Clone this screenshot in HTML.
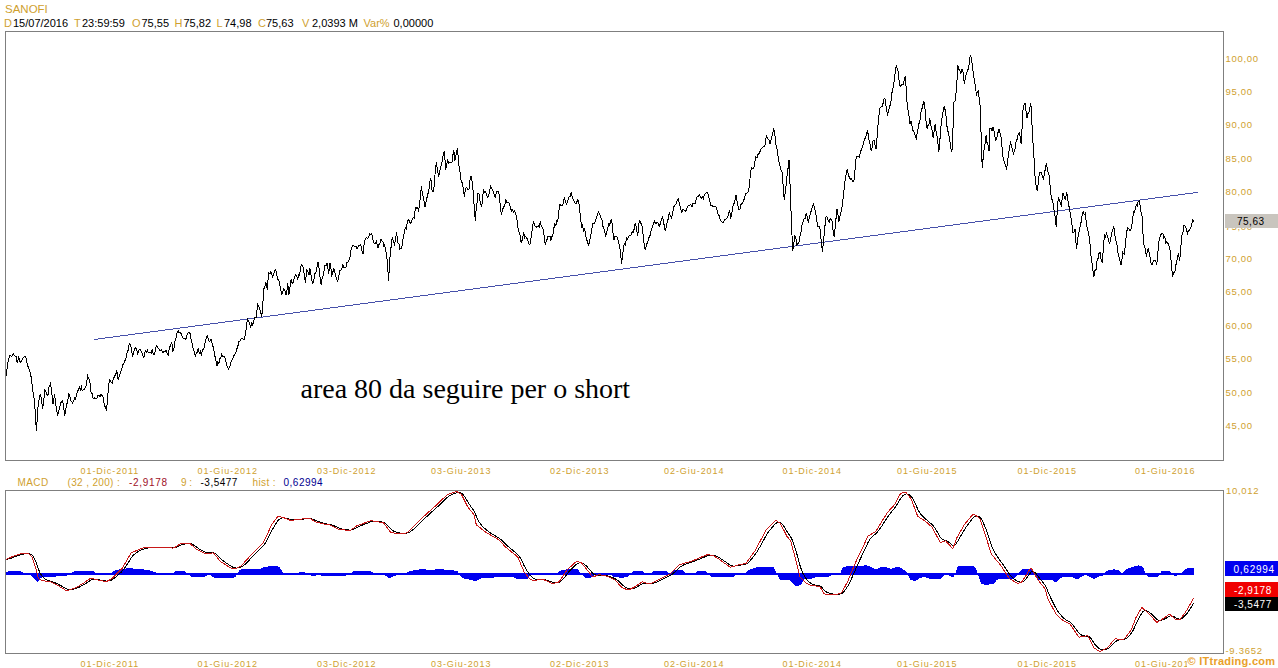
<!DOCTYPE html>
<html><head><meta charset="utf-8"><style>
html,body{margin:0;padding:0;background:#fff;width:1278px;height:668px;overflow:hidden;}
body{position:relative;font-family:"Liberation Sans",sans-serif;}
.t{position:absolute;white-space:nowrap;line-height:1;}
.g{color:#cf9f2f;}
.k{color:#000;}
svg{position:absolute;left:0;top:0;}
</style></head><body>
<svg width="1278" height="668" viewBox="0 0 1278 668" shape-rendering="crispEdges">
<rect x="5.5" y="31.5" width="1218" height="429" fill="none" stroke="#7f7f7f" stroke-width="1"/>
<rect x="5.5" y="490.5" width="1218" height="163" fill="none" stroke="#7f7f7f" stroke-width="1"/>
<line x1="94" y1="339.5" x2="1198" y2="192.3" stroke="#4650aa" stroke-width="1" shape-rendering="crispEdges"/>
<path d="M6.0,375.9 L6.8,370.1 L7.5,365.4 L8.6,358.9 L9.7,355.7 L10.6,355.9 L11.6,356.5 L12.6,355.1 L13.5,353.8 L14.6,355.7 L15.7,356.5 L16.4,356.7 L17.2,363.2 L17.9,360.1 L18.7,357.2 L19.4,359.3 L20.2,362.5 L21.4,361.0 L22.5,358.7 L23.5,357.7 L24.4,356.9 L25.4,356.5 L26.4,359.3 L27.4,365.4 L28.4,367.0 L29.4,370.7 L30.4,372.9 L31.4,378.9 L32.4,387.2 L33.4,394.6 L34.4,399.9 L35.4,415.3 L36.4,431.3 L37.3,418.0 L38.2,404.4 L39.3,398.6 L40.4,393.9 L41.5,400.1 L42.7,408.9 L43.8,399.7 L44.9,389.4 L45.9,392.1 L46.9,394.5 L47.9,395.4 L48.8,387.8 L49.7,385.6 L50.6,383.4 L51.9,394.2 L53.1,404.4 L53.9,398.8 L54.6,393.9 L55.6,403.1 L56.6,409.2 L57.6,416.3 L58.6,411.5 L59.6,408.6 L60.6,402.9 L61.6,402.7 L62.6,399.9 L63.7,407.0 L64.7,415.6 L65.8,408.4 L66.8,404.6 L67.9,399.2 L68.9,393.9 L69.8,396.4 L70.8,401.0 L71.7,401.3 L72.6,402.9 L73.6,401.0 L74.5,398.0 L75.5,399.0 L76.4,394.8 L77.4,392.5 L78.3,389.5 L79.3,387.2 L80.3,389.9 L81.3,386.7 L82.3,390.9 L83.3,389.6 L84.3,389.2 L85.3,387.9 L86.4,384.5 L87.6,375.9 L88.7,378.5 L89.8,380.4 L90.5,389.1 L91.3,393.9 L92.2,393.4 L93.2,398.7 L94.1,397.7 L95.1,399.1 L96.1,398.8 L97.1,398.1 L98.0,395.2 L99.0,394.9 L100.0,397.0 L101.0,393.9 L101.9,395.4 L102.9,395.8 L103.8,402.6 L104.7,406.0 L105.7,407.7 L106.6,410.4 L107.5,399.5 L108.4,388.6 L109.3,379.7 L110.3,380.2 L111.2,382.3 L112.2,383.1 L113.3,379.4 L114.5,376.1 L115.6,375.4 L116.7,370.4 L117.5,374.6 L118.2,380.1 L119.3,375.5 L120.5,372.7 L121.6,369.7 L122.7,364.4 L123.7,364.3 L124.6,361.0 L125.5,360.8 L126.5,356.1 L127.4,350.6 L128.3,350.7 L129.2,343.4 L130.3,344.4 L131.4,348.0 L132.5,356.1 L133.5,353.7 L134.4,349.7 L135.4,347.9 L136.6,348.9 L137.7,353.9 L138.8,350.5 L139.9,349.4 L140.9,351.1 L141.9,352.9 L142.9,356.1 L144.0,357.6 L145.2,350.5 L146.3,352.5 L147.4,350.1 L148.3,352.3 L149.3,352.4 L150.2,352.4 L151.2,353.1 L152.2,349.9 L153.2,353.4 L154.2,354.6 L155.1,352.1 L156.1,346.4 L157.0,345.6 L157.9,347.6 L158.8,348.9 L159.8,350.3 L160.7,350.1 L161.6,349.4 L162.3,352.2 L163.1,352.4 L164.1,351.0 L165.1,351.8 L166.1,350.1 L167.2,353.1 L168.4,355.1 L169.4,346.3 L170.4,346.5 L171.4,341.9 L172.2,344.8 L172.9,350.9 L173.9,348.5 L175.0,341.2 L176.0,338.3 L177.1,332.4 L178.1,330.7 L179.2,333.0 L180.4,332.2 L181.4,334.3 L182.5,337.9 L183.5,338.1 L184.6,338.4 L185.6,339.7 L186.5,337.1 L187.4,333.8 L188.4,332.2 L189.3,332.2 L190.3,334.0 L191.3,340.9 L192.3,343.7 L193.3,350.0 L194.3,351.6 L195.3,356.9 L196.3,353.0 L197.3,352.1 L198.3,347.9 L199.3,353.1 L200.3,351.4 L201.3,354.6 L202.3,350.3 L203.3,349.3 L204.3,347.5 L205.3,341.7 L206.3,338.2 L207.3,335.9 L208.2,338.7 L209.2,341.3 L210.1,340.8 L211.0,338.9 L212.0,343.2 L213.0,346.4 L214.0,351.0 L215.0,356.5 L216.0,360.7 L217.0,365.9 L217.9,361.4 L218.9,363.6 L219.9,358.2 L220.8,358.4 L221.7,354.2 L222.7,356.6 L223.6,356.5 L224.5,356.9 L225.4,358.3 L226.4,364.5 L227.4,367.0 L228.3,368.9 L229.3,367.3 L230.3,365.3 L231.3,360.6 L232.4,359.2 L233.5,356.9 L234.6,354.1 L235.7,353.9 L236.7,349.0 L237.7,347.2 L238.7,341.9 L239.8,341.6 L240.8,339.7 L241.9,337.9 L242.9,338.7 L244.0,339.7 L244.9,336.1 L245.8,332.4 L246.8,322.8 L247.7,319.5 L248.7,321.1 L249.7,324.5 L250.7,326.9 L251.8,323.0 L252.8,325.0 L253.9,320.8 L254.9,317.0 L256.0,318.0 L256.9,311.2 L257.8,304.6 L258.8,306.2 L259.7,308.3 L260.7,312.9 L261.7,317.3 L262.8,304.3 L263.8,288.9 L264.8,287.3 L265.7,282.9 L266.4,284.1 L267.2,289.6 L267.9,280.6 L268.7,273.1 L269.9,273.6 L271.0,271.6 L271.8,274.6 L272.5,276.9 L273.6,274.4 L274.6,270.4 L275.7,269.4 L276.6,274.2 L277.5,279.0 L278.4,279.9 L279.5,282.6 L280.6,289.5 L281.7,294.1 L282.7,292.3 L283.7,288.9 L284.8,289.9 L285.9,294.9 L286.8,291.8 L287.7,282.9 L288.9,294.9 L290.0,286.7 L291.2,279.1 L292.3,283.7 L293.4,282.9 L294.1,278.6 L294.9,276.6 L295.8,274.9 L296.7,276.1 L297.6,279.9 L298.6,274.6 L299.6,275.5 L300.6,266.3 L301.6,264.9 L302.4,265.3 L303.1,267.2 L304.2,274.8 L305.4,282.9 L306.1,276.1 L306.9,269.4 L308.0,272.3 L309.1,275.4 L309.9,267.9 L310.9,274.2 L311.9,280.6 L312.9,283.6 L313.9,279.5 L315.0,273.5 L316.0,271.9 L317.1,266.4 L318.1,261.9 L319.1,268.8 L320.1,277.5 L321.1,285.1 L322.1,278.0 L323.1,275.6 L324.1,270.9 L325.1,264.9 L326.1,265.6 L327.1,263.4 L327.9,268.2 L328.6,273.9 L329.4,268.2 L330.1,262.7 L330.9,267.8 L331.6,276.9 L332.7,272.6 L333.8,268.7 L334.8,272.2 L335.7,276.5 L336.7,278.6 L337.6,282.1 L338.7,277.2 L339.8,270.9 L340.8,270.1 L341.8,269.3 L342.8,264.2 L343.8,267.9 L344.8,267.9 L345.8,267.9 L346.8,262.3 L347.8,262.3 L348.8,260.4 L349.7,259.4 L350.6,252.2 L351.6,247.8 L352.5,245.4 L353.6,245.3 L354.8,246.9 L355.9,245.9 L357.0,248.4 L357.9,247.4 L358.9,245.6 L359.9,245.6 L360.8,244.7 L361.9,250.7 L363.0,254.4 L364.1,244.0 L365.3,238.7 L366.4,237.7 L367.6,238.6 L368.7,236.8 L369.8,233.8 L370.6,234.4 L371.3,233.5 L372.3,235.9 L373.3,241.5 L374.3,243.9 L375.4,243.3 L376.5,241.0 L377.2,245.0 L378.0,247.7 L379.0,244.6 L380.0,243.0 L381.0,238.7 L381.9,240.8 L382.9,241.8 L383.8,245.7 L384.7,244.7 L385.9,251.8 L387.0,258.9 L387.8,268.5 L388.5,281.4 L389.2,270.4 L390.0,257.4 L391.1,246.6 L392.2,238.0 L393.4,240.8 L394.5,244.0 L395.5,239.4 L396.5,232.0 L397.3,238.3 L398.1,243.2 L399.0,244.1 L399.9,249.1 L400.8,248.6 L401.7,247.8 L402.6,242.3 L403.5,236.0 L404.4,232.4 L405.3,227.8 L406.2,228.6 L407.1,223.1 L408.0,219.8 L408.9,220.2 L409.8,222.5 L410.7,223.4 L411.6,221.4 L412.5,219.0 L413.4,217.4 L414.3,218.0 L415.1,209.9 L416.0,207.2 L416.9,208.6 L417.8,207.9 L418.7,211.7 L419.6,202.4 L420.5,197.1 L421.4,185.7 L422.3,193.3 L423.2,197.1 L424.1,201.5 L425.0,207.2 L425.9,202.8 L426.8,198.8 L427.7,193.4 L428.6,192.9 L429.5,185.3 L430.4,177.6 L431.3,181.4 L432.2,192.0 L433.1,191.8 L434.0,187.5 L435.1,173.4 L436.3,162.3 L437.4,169.0 L438.5,176.7 L439.4,174.1 L440.3,168.5 L441.2,165.5 L442.1,161.4 L443.2,155.4 L444.4,150.7 L445.7,169.5 L446.6,166.3 L447.5,159.6 L448.6,163.4 L449.8,162.5 L450.9,163.0 L452.0,162.3 L452.9,155.2 L453.8,149.8 L455.0,160.5 L456.2,154.2 L457.4,148.0 L458.3,158.7 L459.2,167.7 L460.1,172.7 L461.0,179.7 L461.9,182.1 L462.8,185.6 L463.6,190.9 L464.5,196.5 L465.4,188.3 L466.3,187.5 L467.2,188.5 L468.1,189.8 L469.0,189.3 L469.9,181.0 L470.8,175.8 L471.7,178.9 L472.6,185.7 L473.5,195.7 L474.4,209.7 L475.3,220.7 L476.2,209.0 L477.1,201.9 L478.0,192.9 L478.9,193.4 L479.8,200.1 L480.7,203.5 L481.6,207.2 L482.5,199.7 L483.4,190.2 L484.5,192.1 L485.6,192.0 L486.8,195.5 L487.9,197.4 L488.8,194.8 L489.7,190.6 L490.6,186.0 L491.5,187.5 L492.4,190.1 L493.3,191.8 L494.2,194.7 L495.3,198.0 L496.4,191.4 L497.6,191.2 L498.7,192.0 L499.6,198.6 L500.5,208.2 L501.4,215.3 L502.5,209.6 L503.6,207.4 L504.8,205.0 L505.9,200.0 L507.0,202.8 L508.1,202.3 L509.3,203.0 L510.4,207.2 L511.4,211.0 L512.5,209.7 L513.5,212.0 L514.5,210.6 L515.6,214.2 L516.6,216.2 L517.5,223.6 L518.4,230.6 L519.3,233.2 L520.2,235.2 L521.1,242.3 L522.0,240.6 L522.9,236.0 L523.8,232.4 L524.7,237.8 L525.6,236.4 L526.5,237.8 L527.4,239.2 L528.3,241.4 L529.2,244.8 L530.1,244.1 L531.2,236.2 L532.4,228.6 L533.5,220.9 L534.4,224.6 L535.2,226.9 L536.4,227.1 L537.5,226.1 L538.4,225.8 L539.3,226.7 L540.2,221.6 L541.3,225.7 L542.4,227.4 L543.5,229.9 L544.5,240.3 L545.4,244.9 L546.3,240.4 L547.1,239.6 L548.0,235.9 L549.0,237.0 L550.0,235.8 L551.0,240.4 L552.0,236.5 L553.0,233.8 L554.0,227.6 L554.9,223.7 L555.9,225.2 L556.8,221.0 L557.7,221.6 L558.8,211.7 L559.9,204.4 L561.0,206.0 L562.2,205.9 L563.3,202.8 L564.4,196.9 L565.5,201.8 L566.7,204.4 L567.5,201.7 L568.2,199.9 L569.2,196.8 L570.2,196.4 L571.2,191.7 L572.3,197.1 L573.4,199.9 L574.4,202.2 L575.4,203.5 L576.4,203.7 L577.5,199.9 L578.7,201.4 L579.7,209.8 L580.6,217.7 L581.6,226.9 L582.5,225.2 L583.5,230.9 L584.5,229.4 L585.4,232.9 L586.4,238.9 L587.4,241.4 L588.4,246.3 L589.5,241.4 L590.6,235.9 L591.8,229.4 L592.9,223.9 L593.9,223.9 L594.9,222.8 L595.9,219.4 L596.8,216.9 L597.7,213.1 L598.6,211.9 L599.7,213.9 L600.8,217.3 L601.9,219.4 L602.8,226.0 L603.8,228.1 L604.7,231.6 L605.6,236.6 L606.7,232.2 L607.8,228.4 L608.8,223.7 L609.7,225.3 L610.6,220.3 L611.6,219.4 L612.7,230.0 L613.8,240.4 L614.8,236.3 L615.8,236.2 L616.8,236.6 L617.8,239.1 L618.8,243.2 L619.8,246.3 L620.7,255.6 L621.6,263.6 L622.6,255.9 L623.6,246.3 L624.5,243.5 L625.5,244.9 L626.4,237.7 L627.3,239.6 L628.4,237.4 L629.5,235.2 L630.7,235.4 L631.8,232.9 L632.7,231.9 L633.6,232.2 L634.6,225.7 L635.5,223.1 L636.6,229.9 L637.8,235.9 L638.5,226.6 L639.3,220.9 L640.3,222.0 L641.3,224.1 L642.3,226.9 L643.3,237.1 L644.3,245.8 L645.3,250.1 L646.3,245.2 L647.3,242.7 L648.3,240.0 L649.3,236.4 L650.3,235.3 L651.3,229.9 L652.3,227.1 L653.3,224.6 L654.3,220.9 L655.2,223.0 L656.1,223.4 L657.1,221.9 L658.0,223.1 L659.1,226.4 L660.2,224.0 L661.4,219.5 L662.5,217.2 L663.5,221.3 L664.5,227.6 L665.5,231.4 L666.4,225.6 L667.4,222.0 L668.3,218.4 L669.2,212.7 L670.4,215.7 L671.5,217.9 L672.4,215.1 L673.3,208.6 L674.2,205.9 L675.2,204.4 L676.3,203.8 L677.4,199.9 L678.4,198.6 L679.4,204.2 L680.5,207.2 L681.5,213.2 L682.6,209.7 L683.6,210.0 L684.7,210.1 L685.7,211.5 L686.8,208.1 L687.8,206.2 L688.9,205.5 L689.9,204.9 L690.9,204.7 L692.0,207.1 L693.0,203.0 L694.1,203.4 L695.1,203.8 L696.1,199.9 L697.2,196.7 L698.2,196.2 L699.3,194.4 L700.3,196.2 L701.4,198.2 L702.5,196.9 L703.5,198.6 L704.5,194.1 L705.6,193.7 L706.7,192.2 L707.7,192.3 L708.8,196.9 L709.8,200.9 L710.9,205.9 L711.9,205.2 L713.0,206.5 L714.0,206.8 L715.0,205.9 L716.1,207.3 L717.1,210.3 L718.2,215.0 L719.2,215.2 L720.3,220.6 L721.3,221.2 L722.4,222.4 L723.4,222.6 L724.5,219.8 L725.5,219.5 L726.5,218.3 L727.6,217.2 L728.7,213.2 L729.7,211.1 L730.8,218.5 L731.8,213.4 L732.9,206.3 L733.9,204.0 L735.0,199.7 L736.0,195.4 L737.0,200.8 L738.1,206.0 L739.1,210.1 L740.1,208.9 L741.2,203.7 L742.2,203.5 L743.3,201.7 L744.4,198.4 L745.4,194.2 L746.5,193.3 L747.5,192.9 L748.6,191.2 L749.7,181.7 L750.7,171.3 L751.7,167.6 L752.8,168.8 L753.8,168.2 L754.8,161.7 L755.9,156.7 L757.0,157.9 L758.0,154.3 L759.0,153.7 L760.1,151.4 L761.1,148.8 L762.2,148.1 L763.2,146.5 L764.3,146.2 L765.3,144.2 L766.4,134.7 L767.3,138.4 L768.2,139.0 L769.2,140.4 L770.1,144.1 L771.0,139.7 L771.9,136.7 L772.8,133.5 L773.7,128.4 L774.8,134.0 L775.8,144.2 L776.9,148.3 L777.9,154.9 L778.9,161.9 L780.0,166.0 L781.0,170.0 L782.1,172.4 L783.2,186.3 L784.2,199.6 L785.2,193.3 L786.3,182.9 L787.2,174.2 L788.1,167.8 L789.0,159.8 L789.8,177.5 L790.5,199.6 L791.5,221.9 L792.6,250.9 L793.7,244.7 L794.7,235.2 L795.8,238.0 L796.8,244.7 L797.8,243.1 L798.9,243.2 L799.9,236.2 L801.0,232.5 L802.0,224.8 L803.0,222.2 L804.1,219.1 L805.2,218.5 L806.2,213.2 L807.2,216.9 L808.3,222.7 L809.3,217.9 L810.3,213.3 L811.4,210.5 L812.4,206.1 L813.4,204.3 L814.5,206.8 L815.6,212.7 L816.7,220.0 L817.8,226.2 L819.0,226.0 L820.1,229.0 L821.2,240.8 L822.4,251.5 L823.5,242.0 L824.6,230.1 L825.7,217.8 L826.8,216.0 L828.0,220.0 L829.1,222.3 L830.2,218.6 L831.3,220.0 L832.3,221.6 L833.3,234.0 L834.3,236.9 L835.2,227.4 L836.1,217.5 L837.0,208.8 L837.9,213.7 L838.7,222.3 L839.6,218.3 L840.5,213.2 L841.4,211.1 L842.5,204.2 L843.7,193.1 L844.8,182.6 L846.0,174.7 L847.1,169.5 L848.2,173.8 L849.3,177.4 L850.4,179.3 L851.5,178.8 L852.7,181.1 L853.8,181.9 L854.9,171.3 L856.0,159.4 L857.1,156.1 L858.3,156.8 L859.4,157.2 L860.5,151.6 L861.7,149.3 L862.8,145.6 L863.9,141.4 L865.0,138.6 L866.2,135.3 L867.3,131.3 L868.2,134.0 L869.2,141.2 L870.1,144.0 L871.1,150.4 L872.1,147.9 L873.0,141.2 L874.0,140.3 L875.1,145.9 L876.2,149.3 L877.0,138.2 L877.7,127.2 L878.6,120.7 L879.5,109.2 L880.4,107.5 L881.5,106.8 L882.6,105.7 L883.8,99.3 L884.9,98.5 L885.8,105.2 L886.7,109.8 L887.6,115.6 L888.5,111.0 L889.4,107.0 L890.3,104.8 L891.2,100.0 L892.1,91.7 L893.0,87.7 L894.1,81.4 L895.1,73.7 L896.2,65.3 L897.3,69.0 L898.4,71.6 L899.2,82.4 L900.1,86.8 L901.0,85.6 L901.9,84.7 L902.8,85.0 L903.7,82.6 L904.6,78.3 L905.5,76.0 L906.4,93.7 L907.3,105.7 L908.2,111.6 L909.1,116.5 L910.0,124.1 L910.9,120.7 L911.8,125.4 L912.9,130.5 L914.0,131.6 L915.2,135.7 L916.3,138.0 L917.2,132.8 L918.1,128.5 L919.0,123.6 L919.9,120.6 L920.8,113.4 L921.7,109.3 L922.6,107.1 L923.5,101.6 L924.4,102.1 L925.3,112.6 L926.2,123.1 L927.1,129.0 L928.0,125.5 L928.9,125.2 L929.8,118.3 L930.7,125.5 L931.6,126.7 L932.5,134.5 L933.4,138.0 L934.3,129.7 L935.2,123.6 L936.1,131.4 L937.0,135.8 L937.9,143.1 L938.8,152.4 L939.7,143.1 L940.6,130.3 L941.5,121.9 L942.4,115.7 L943.3,110.9 L944.2,105.7 L945.1,109.9 L946.0,116.2 L946.9,125.9 L947.8,130.8 L948.8,134.5 L949.8,140.3 L950.9,148.1 L951.9,152.4 L953.0,128.6 L954.0,102.1 L955.4,100.5 L956.6,86.3 L957.9,65.4 L958.9,69.2 L959.8,69.6 L960.8,74.2 L961.8,69.5 L962.8,70.3 L963.5,76.5 L964.3,83.9 L965.4,78.5 L966.6,72.5 L967.7,70.3 L968.7,67.9 L969.6,58.9 L970.6,54.7 L971.5,59.2 L972.5,66.4 L973.5,74.9 L974.5,81.0 L975.5,86.1 L976.4,95.6 L977.4,91.8 L978.4,90.7 L979.3,99.8 L980.3,107.3 L981.2,138.2 L982.2,167.6 L983.2,157.7 L984.2,148.2 L985.2,142.7 L986.1,135.5 L987.1,143.2 L988.1,145.3 L989.1,151.1 L990.0,128.7 L991.0,128.1 L992.0,130.7 L993.0,126.7 L994.0,131.1 L994.9,136.8 L995.9,140.4 L996.9,137.9 L997.8,133.6 L998.8,128.7 L999.8,132.4 L1000.7,134.5 L1001.7,142.3 L1002.7,155.9 L1003.7,159.9 L1004.7,163.9 L1005.6,164.6 L1006.6,169.6 L1007.6,161.0 L1008.5,154.1 L1009.5,148.5 L1010.5,141.3 L1011.5,147.3 L1012.4,148.2 L1013.4,154.0 L1014.4,151.2 L1015.3,147.8 L1016.3,140.1 L1017.3,139.7 L1018.2,133.8 L1019.2,132.6 L1020.2,136.7 L1021.2,144.3 L1022.2,126.1 L1023.1,108.3 L1024.1,104.5 L1025.1,103.4 L1026.0,111.4 L1027.0,118.0 L1028.0,113.3 L1029.0,112.4 L1029.9,107.8 L1030.9,103.4 L1031.9,122.8 L1032.9,141.0 L1033.8,154.7 L1034.8,171.5 L1035.2,179.3 L1036.2,185.9 L1037.3,190.9 L1038.3,182.2 L1039.4,172.0 L1040.5,172.0 L1041.5,173.0 L1042.5,177.2 L1043.6,179.3 L1044.5,171.4 L1045.4,169.7 L1046.3,163.6 L1047.2,168.0 L1048.0,171.6 L1048.9,174.1 L1050.0,184.6 L1051.0,195.0 L1052.2,200.3 L1053.5,204.5 L1054.4,214.0 L1055.3,217.0 L1056.2,226.5 L1057.2,211.9 L1058.3,197.1 L1059.3,200.5 L1060.4,202.7 L1061.4,206.6 L1062.2,197.6 L1063.1,192.9 L1064.2,196.3 L1065.2,199.2 L1066.0,195.7 L1066.7,191.9 L1067.8,199.8 L1068.8,205.5 L1069.8,210.3 L1070.9,217.4 L1072.0,224.7 L1073.0,232.8 L1074.0,232.4 L1075.0,228.6 L1075.8,240.3 L1076.5,248.5 L1077.4,241.9 L1078.3,235.1 L1079.2,230.7 L1080.2,226.2 L1081.3,221.3 L1082.4,213.2 L1083.4,211.8 L1084.3,214.7 L1085.2,213.6 L1086.1,220.2 L1087.0,226.9 L1087.8,229.7 L1088.7,233.8 L1089.8,241.4 L1090.8,254.8 L1091.8,261.1 L1092.9,270.1 L1093.9,276.8 L1094.9,270.4 L1096.0,269.6 L1097.0,261.0 L1098.1,258.2 L1099.1,253.0 L1100.2,252.7 L1101.2,260.4 L1102.3,263.1 L1103.3,249.0 L1104.4,234.9 L1105.4,236.5 L1106.5,233.4 L1107.5,235.9 L1108.5,239.7 L1109.6,244.3 L1110.6,239.4 L1111.7,232.8 L1112.8,229.3 L1113.8,226.5 L1114.8,234.7 L1115.9,240.9 L1117.0,244.8 L1118.0,252.7 L1119.0,257.3 L1120.1,261.0 L1121.1,265.4 L1121.9,260.2 L1122.8,252.6 L1123.5,253.7 L1124.3,254.0 L1125.7,242.6 L1126.4,232.7 L1127.8,227.7 L1128.9,228.4 L1130.0,231.3 L1131.4,227.7 L1132.5,221.8 L1133.5,211.3 L1134.5,212.1 L1135.6,207.1 L1136.5,205.1 L1137.3,206.1 L1138.2,201.1 L1139.1,200.9 L1139.9,204.2 L1141.0,212.3 L1142.0,215.6 L1142.8,229.6 L1143.5,244.1 L1144.5,246.0 L1145.6,249.7 L1146.3,256.9 L1147.3,251.9 L1148.4,248.3 L1149.4,253.8 L1150.3,259.1 L1151.3,264.7 L1152.3,264.7 L1153.4,260.4 L1154.5,260.2 L1155.6,260.4 L1156.7,265.4 L1157.9,252.2 L1159.1,239.8 L1160.1,236.3 L1161.0,234.5 L1162.0,233.4 L1162.9,233.9 L1163.9,238.4 L1164.8,236.9 L1165.8,242.6 L1166.7,241.8 L1167.7,242.6 L1168.8,245.7 L1169.8,248.3 L1170.7,256.8 L1171.7,267.3 L1172.6,276.8 L1173.7,272.8 L1174.8,272.5 L1175.7,266.7 L1176.5,261.0 L1177.4,259.1 L1178.3,252.6 L1179.7,261.1 L1180.8,247.5 L1181.9,235.5 L1182.8,234.1 L1183.8,225.5 L1184.7,225.6 L1185.7,226.8 L1186.6,230.1 L1187.6,233.4 L1188.5,230.5 L1189.5,230.4 L1190.4,228.4 L1191.5,225.6 L1192.5,219.9 L1193.7,221.6" fill="none" stroke="#000" stroke-width="1" shape-rendering="crispEdges"/>
<rect x="6" y="573" width="1188" height="2" fill="#0000f0"/>
<path d="M6.0,574.0 L6.0,571.9 L6.5,571.9 L7.0,571.8 L7.5,571.6 L8.0,571.5 L8.5,571.4 L9.0,571.3 L9.5,571.1 L10.0,571.1 L10.5,571.0 L11.0,571.0 L11.5,571.0 L12.0,571.0 L12.5,571.0 L13.0,571.0 L13.5,571.0 L14.0,571.0 L14.5,571.0 L15.0,571.0 L15.5,571.0 L16.0,571.0 L16.5,571.0 L17.0,571.0 L17.5,571.0 L18.0,571.0 L18.5,571.0 L19.0,571.0 L19.5,571.0 L20.0,571.2 L20.5,571.3 L21.0,571.5 L21.5,571.8 L22.0,572.0 L22.5,572.2 L23.0,572.5 L23.5,572.8 L24.0,573.0 L24.5,573.2 L25.0,573.4 L25.5,573.5 L26.0,573.6 L26.5,573.7 L27.0,573.8 L27.5,573.8 L28.0,573.9 L28.5,574.0 L29.0,574.3 L29.5,574.6 L30.0,575.0 L30.5,575.5 L31.0,576.0 L31.5,576.5 L32.0,577.0 L32.5,577.5 L33.0,578.0 L33.5,578.5 L34.0,579.0 L34.5,579.5 L35.0,580.0 L35.5,580.5 L36.0,581.0 L36.5,581.5 L37.0,581.7 L37.5,581.7 L38.0,581.3 L38.5,580.7 L39.0,579.8 L39.5,579.1 L40.0,578.5 L40.5,578.0 L41.0,577.7 L41.5,577.6 L42.0,577.4 L42.5,577.2 L43.0,577.1 L43.5,577.0 L44.0,576.8 L44.5,576.7 L45.0,576.6 L45.5,576.5 L46.0,576.5 L46.5,576.5 L47.0,576.5 L47.5,576.5 L48.0,576.5 L48.5,576.5 L49.0,576.5 L49.5,576.5 L50.0,576.5 L50.5,576.5 L51.0,576.5 L51.5,576.5 L52.0,576.5 L52.5,576.5 L53.0,576.5 L53.5,576.5 L54.0,576.5 L54.5,576.5 L55.0,576.5 L55.5,576.5 L56.0,576.5 L56.5,576.4 L57.0,576.4 L57.5,576.4 L58.0,576.4 L58.5,576.3 L59.0,576.3 L59.5,576.3 L60.0,576.3 L60.5,576.2 L61.0,576.2 L61.5,576.2 L62.0,576.2 L62.5,576.2 L63.0,576.1 L63.5,576.1 L64.0,576.1 L64.5,576.1 L65.0,576.0 L65.5,576.0 L66.0,575.9 L66.5,575.7 L67.0,575.5 L67.5,575.2 L68.0,575.0 L68.5,574.8 L69.0,574.5 L69.5,574.2 L70.0,574.0 L70.5,573.7 L71.0,573.4 L71.5,573.0 L72.0,572.7 L72.5,572.4 L73.0,572.1 L73.5,571.8 L74.0,571.4 L74.5,571.2 L75.0,571.0 L75.5,570.8 L76.0,570.8 L76.5,570.8 L77.0,570.7 L77.5,570.7 L78.0,570.7 L78.5,570.7 L79.0,570.7 L79.5,570.7 L80.0,570.6 L80.5,570.6 L81.0,570.6 L81.5,570.6 L82.0,570.6 L82.5,570.6 L83.0,570.6 L83.5,570.5 L84.0,570.5 L84.5,570.5 L85.0,570.5 L85.5,570.5 L86.0,570.5 L86.5,570.5 L87.0,570.6 L87.5,570.6 L88.0,570.6 L88.5,570.6 L89.0,570.6 L89.5,570.6 L90.0,570.7 L90.5,570.7 L91.0,570.7 L91.5,570.7 L92.0,570.7 L92.5,570.8 L93.0,570.8 L93.5,570.9 L94.0,571.3 L94.5,571.8 L95.0,572.4 L95.5,573.1 L96.0,573.6 L96.5,574.0 L97.0,574.2 L97.5,574.4 L98.0,574.5 L98.5,574.6 L99.0,574.8 L99.5,574.9 L100.0,574.9 L100.5,575.0 L101.0,575.0 L101.5,575.0 L102.0,575.0 L102.5,575.0 L103.0,575.0 L103.5,575.0 L104.0,575.0 L104.5,575.0 L105.0,575.0 L105.5,575.0 L106.0,575.0 L106.5,575.0 L107.0,575.0 L107.5,575.0 L108.0,574.9 L108.5,574.7 L109.0,574.5 L109.5,574.2 L110.0,573.9 L110.5,573.6 L111.0,573.2 L111.5,572.8 L112.0,572.4 L112.5,572.0 L113.0,571.6 L113.5,571.2 L114.0,570.8 L114.5,570.5 L115.0,570.2 L115.5,570.0 L116.0,569.9 L116.5,569.8 L117.0,569.7 L117.5,569.6 L118.0,569.5 L118.5,569.5 L119.0,569.4 L119.5,569.3 L120.0,569.2 L120.5,569.2 L121.0,569.1 L121.5,569.0 L122.0,569.0 L122.5,568.9 L123.0,568.8 L123.5,568.7 L124.0,568.7 L124.5,568.6 L125.0,568.5 L125.5,568.5 L126.0,568.5 L126.5,568.4 L127.0,568.4 L127.5,568.4 L128.0,568.4 L128.5,568.4 L129.0,568.3 L129.5,568.3 L130.0,568.3 L130.5,568.3 L131.0,568.4 L131.5,568.4 L132.0,568.4 L132.5,568.4 L133.0,568.5 L133.5,568.5 L134.0,568.5 L134.5,568.5 L135.0,568.5 L135.5,568.6 L136.0,568.6 L136.5,568.6 L137.0,568.6 L137.5,568.7 L138.0,568.7 L138.5,568.7 L139.0,568.8 L139.5,568.8 L140.0,568.8 L140.5,568.9 L141.0,569.0 L141.5,569.1 L142.0,569.1 L142.5,569.2 L143.0,569.3 L143.5,569.4 L144.0,569.5 L144.5,569.6 L145.0,569.7 L145.5,569.7 L146.0,569.8 L146.5,569.9 L147.0,570.0 L147.5,570.1 L148.0,570.2 L148.5,570.2 L149.0,570.3 L149.5,570.4 L150.0,570.6 L150.5,570.7 L151.0,570.9 L151.5,571.0 L152.0,571.2 L152.5,571.4 L153.0,571.6 L153.5,571.7 L154.0,571.9 L154.5,572.1 L155.0,572.2 L155.5,572.4 L156.0,572.6 L156.5,572.8 L157.0,573.0 L157.5,573.1 L158.0,573.3 L158.5,573.5 L159.0,573.7 L159.5,573.8 L160.0,573.9 L160.5,574.1 L161.0,574.2 L161.5,574.2 L162.0,574.3 L162.5,574.4 L163.0,574.5 L163.5,574.6 L164.0,574.7 L164.5,574.8 L165.0,574.8 L165.5,574.9 L166.0,575.0 L166.5,575.0 L167.0,575.0 L167.5,575.0 L168.0,575.0 L168.5,575.0 L169.0,574.9 L169.5,574.8 L170.0,574.7 L170.5,574.5 L171.0,574.3 L171.5,574.1 L172.0,573.8 L172.5,573.5 L173.0,573.1 L173.5,572.6 L174.0,572.1 L174.5,571.8 L175.0,571.5 L175.5,571.3 L176.0,571.2 L176.5,571.2 L177.0,571.2 L177.5,571.2 L178.0,571.2 L178.5,571.2 L179.0,571.2 L179.5,571.2 L180.0,571.2 L180.5,571.2 L181.0,571.2 L181.5,571.2 L182.0,571.2 L182.5,571.2 L183.0,571.2 L183.5,571.2 L184.0,571.2 L184.5,571.3 L185.0,571.5 L185.5,571.8 L186.0,572.1 L186.5,572.6 L187.0,573.1 L187.5,573.5 L188.0,574.0 L188.5,574.4 L189.0,574.8 L189.5,575.2 L190.0,575.7 L190.5,576.0 L191.0,576.3 L191.5,576.5 L192.0,576.6 L192.5,576.7 L193.0,576.8 L193.5,576.8 L194.0,576.9 L194.5,576.9 L195.0,577.0 L195.5,577.0 L196.0,577.0 L196.5,577.0 L197.0,577.0 L197.5,577.0 L198.0,577.0 L198.5,577.0 L199.0,577.0 L199.5,577.0 L200.0,577.0 L200.5,577.0 L201.0,577.0 L201.5,577.0 L202.0,577.0 L202.5,577.0 L203.0,577.0 L203.5,576.9 L204.0,576.8 L204.5,576.6 L205.0,576.4 L205.5,576.1 L206.0,575.8 L206.5,575.5 L207.0,575.2 L207.5,574.9 L208.0,574.6 L208.5,574.4 L209.0,574.4 L209.5,574.6 L210.0,574.9 L210.5,575.3 L211.0,575.8 L211.5,576.2 L212.0,576.6 L212.5,577.0 L213.0,577.2 L213.5,577.4 L214.0,577.5 L214.5,577.5 L215.0,577.6 L215.5,577.6 L216.0,577.6 L216.5,577.6 L217.0,577.6 L217.5,577.6 L218.0,577.6 L218.5,577.7 L219.0,577.7 L219.5,577.7 L220.0,577.7 L220.5,577.7 L221.0,577.7 L221.5,577.7 L222.0,577.7 L222.5,577.7 L223.0,577.7 L223.5,577.7 L224.0,577.6 L224.5,577.6 L225.0,577.6 L225.5,577.6 L226.0,577.6 L226.5,577.6 L227.0,577.6 L227.5,577.6 L228.0,577.6 L228.5,577.6 L229.0,577.6 L229.5,577.6 L230.0,577.6 L230.5,577.6 L231.0,577.6 L231.5,577.5 L232.0,577.5 L232.5,577.5 L233.0,577.5 L233.5,577.5 L234.0,577.5 L234.5,577.3 L235.0,577.0 L235.5,576.5 L236.0,575.8 L236.5,574.9 L237.0,574.1 L237.5,573.3 L238.0,572.5 L238.5,571.8 L239.0,571.0 L239.5,570.4 L240.0,569.9 L240.5,569.6 L241.0,569.5 L241.5,569.4 L242.0,569.4 L242.5,569.4 L243.0,569.4 L243.5,569.3 L244.0,569.3 L244.5,569.3 L245.0,569.2 L245.5,569.2 L246.0,569.2 L246.5,569.2 L247.0,569.1 L247.5,569.1 L248.0,569.1 L248.5,569.1 L249.0,569.1 L249.5,569.0 L250.0,569.0 L250.5,569.0 L251.0,569.0 L251.5,569.0 L252.0,569.0 L252.5,569.0 L253.0,569.0 L253.5,569.0 L254.0,569.0 L254.5,569.0 L255.0,569.0 L255.5,569.0 L256.0,569.0 L256.5,569.0 L257.0,569.0 L257.5,569.0 L258.0,569.0 L258.5,569.0 L259.0,569.0 L259.5,569.0 L260.0,568.9 L260.5,568.7 L261.0,568.5 L261.5,568.2 L262.0,568.0 L262.5,567.8 L263.0,567.6 L263.5,567.4 L264.0,567.3 L264.5,567.2 L265.0,567.1 L265.5,567.0 L266.0,566.9 L266.5,566.8 L267.0,566.7 L267.5,566.6 L268.0,566.5 L268.5,566.4 L269.0,566.3 L269.5,566.2 L270.0,566.1 L270.5,566.1 L271.0,566.1 L271.5,566.1 L272.0,566.1 L272.5,566.1 L273.0,566.1 L273.5,566.2 L274.0,566.2 L274.5,566.2 L275.0,566.3 L275.5,566.3 L276.0,566.3 L276.5,566.4 L277.0,566.4 L277.5,566.4 L278.0,566.4 L278.5,566.6 L279.0,566.9 L279.5,567.4 L280.0,568.0 L280.5,568.8 L281.0,569.5 L281.5,570.2 L282.0,571.0 L282.5,571.8 L283.0,572.5 L283.5,573.1 L284.0,573.7 L284.5,574.1 L285.0,574.4 L285.5,574.7 L286.0,574.9 L286.5,575.0 L287.0,575.2 L287.5,575.3 L288.0,575.3 L288.5,575.3 L289.0,575.3 L289.5,575.3 L290.0,575.3 L290.5,575.3 L291.0,575.3 L291.5,575.3 L292.0,575.2 L292.5,575.1 L293.0,575.0 L293.5,574.8 L294.0,574.6 L294.5,574.5 L295.0,574.3 L295.5,574.1 L296.0,573.9 L296.5,573.7 L297.0,573.5 L297.5,573.2 L298.0,573.0 L298.5,572.7 L299.0,572.4 L299.5,572.2 L300.0,572.1 L300.5,572.0 L301.0,571.9 L301.5,571.9 L302.0,571.9 L302.5,571.9 L303.0,571.9 L303.5,572.0 L304.0,572.1 L304.5,572.2 L305.0,572.4 L305.5,572.7 L306.0,573.0 L306.5,573.2 L307.0,573.5 L307.5,573.7 L308.0,574.0 L308.5,574.3 L309.0,574.5 L309.5,574.8 L310.0,575.0 L310.5,575.3 L311.0,575.6 L311.5,575.8 L312.0,575.9 L312.5,576.0 L313.0,576.1 L313.5,576.1 L314.0,576.1 L314.5,576.0 L315.0,575.9 L315.5,575.7 L316.0,575.4 L316.5,575.0 L317.0,574.7 L317.5,574.5 L318.0,574.4 L318.5,574.4 L319.0,574.6 L319.5,574.9 L320.0,575.1 L320.5,575.4 L321.0,575.5 L321.5,575.6 L322.0,575.7 L322.5,575.7 L323.0,575.7 L323.5,575.7 L324.0,575.7 L324.5,575.7 L325.0,575.7 L325.5,575.7 L326.0,575.7 L326.5,575.7 L327.0,575.7 L327.5,575.7 L328.0,575.7 L328.5,575.7 L329.0,575.7 L329.5,575.7 L330.0,575.7 L330.5,575.7 L331.0,575.7 L331.5,575.7 L332.0,575.7 L332.5,575.7 L333.0,575.7 L333.5,575.7 L334.0,575.7 L334.5,575.7 L335.0,575.7 L335.5,575.7 L336.0,575.7 L336.5,575.7 L337.0,575.7 L337.5,575.7 L338.0,575.7 L338.5,575.7 L339.0,575.7 L339.5,575.7 L340.0,575.7 L340.5,575.7 L341.0,575.7 L341.5,575.7 L342.0,575.7 L342.5,575.7 L343.0,575.7 L343.5,575.7 L344.0,575.7 L344.5,575.7 L345.0,575.7 L345.5,575.7 L346.0,575.6 L346.5,575.4 L347.0,575.3 L347.5,575.1 L348.0,574.9 L348.5,574.6 L349.0,574.4 L349.5,574.2 L350.0,573.8 L350.5,573.4 L351.0,573.0 L351.5,572.5 L352.0,572.0 L352.5,571.6 L353.0,571.3 L353.5,571.1 L354.0,571.0 L354.5,571.0 L355.0,571.0 L355.5,571.0 L356.0,571.0 L356.5,571.0 L357.0,571.0 L357.5,571.0 L358.0,571.0 L358.5,571.0 L359.0,571.0 L359.5,571.0 L360.0,571.0 L360.5,571.0 L361.0,571.0 L361.5,571.0 L362.0,571.0 L362.5,571.0 L363.0,571.0 L363.5,571.0 L364.0,571.0 L364.5,571.0 L365.0,571.0 L365.5,571.0 L366.0,571.0 L366.5,571.0 L367.0,571.0 L367.5,571.0 L368.0,571.0 L368.5,571.0 L369.0,571.0 L369.5,571.0 L370.0,571.0 L370.5,571.1 L371.0,571.2 L371.5,571.5 L372.0,571.8 L372.5,572.1 L373.0,572.5 L373.5,572.9 L374.0,573.2 L374.5,573.6 L375.0,573.8 L375.5,574.0 L376.0,574.1 L376.5,574.2 L377.0,574.2 L377.5,574.3 L378.0,574.4 L378.5,574.4 L379.0,574.5 L379.5,574.5 L380.0,574.6 L380.5,574.6 L381.0,574.7 L381.5,574.7 L382.0,574.8 L382.5,574.8 L383.0,574.8 L383.5,574.9 L384.0,574.9 L384.5,575.0 L385.0,575.2 L385.5,575.5 L386.0,575.8 L386.5,576.2 L387.0,576.6 L387.5,577.0 L388.0,577.4 L388.5,577.8 L389.0,578.0 L389.5,578.1 L390.0,578.0 L390.5,577.9 L391.0,577.6 L391.5,577.3 L392.0,577.0 L392.5,576.8 L393.0,576.6 L393.5,576.4 L394.0,576.1 L394.5,575.9 L395.0,575.7 L395.5,575.6 L396.0,575.4 L396.5,575.3 L397.0,575.3 L397.5,575.3 L398.0,575.3 L398.5,575.3 L399.0,575.3 L399.5,575.3 L400.0,575.3 L400.5,575.3 L401.0,575.3 L401.5,575.3 L402.0,575.3 L402.5,575.3 L403.0,575.3 L403.5,575.3 L404.0,575.3 L404.5,575.1 L405.0,574.8 L405.5,574.3 L406.0,573.6 L406.5,573.0 L407.0,572.4 L407.5,572.0 L408.0,571.8 L408.5,571.6 L409.0,571.5 L409.5,571.4 L410.0,571.3 L410.5,571.1 L411.0,571.0 L411.5,570.9 L412.0,570.8 L412.5,570.6 L413.0,570.5 L413.5,570.4 L414.0,570.2 L414.5,570.1 L415.0,570.0 L415.5,569.9 L416.0,569.9 L416.5,569.8 L417.0,569.7 L417.5,569.7 L418.0,569.6 L418.5,569.6 L419.0,569.5 L419.5,569.4 L420.0,569.4 L420.5,569.3 L421.0,569.2 L421.5,569.2 L422.0,569.2 L422.5,569.2 L423.0,569.2 L423.5,569.2 L424.0,569.3 L424.5,569.3 L425.0,569.4 L425.5,569.4 L426.0,569.5 L426.5,569.5 L427.0,569.5 L427.5,569.6 L428.0,569.6 L428.5,569.7 L429.0,569.7 L429.5,569.7 L430.0,569.8 L430.5,569.7 L431.0,569.7 L431.5,569.7 L432.0,569.6 L432.5,569.6 L433.0,569.6 L433.5,569.5 L434.0,569.5 L434.5,569.5 L435.0,569.4 L435.5,569.4 L436.0,569.3 L436.5,569.3 L437.0,569.3 L437.5,569.2 L438.0,569.2 L438.5,569.2 L439.0,569.1 L439.5,569.2 L440.0,569.2 L440.5,569.2 L441.0,569.2 L441.5,569.3 L442.0,569.3 L442.5,569.4 L443.0,569.4 L443.5,569.4 L444.0,569.5 L444.5,569.5 L445.0,569.5 L445.5,569.6 L446.0,569.6 L446.5,569.6 L447.0,569.7 L447.5,569.7 L448.0,569.8 L448.5,569.8 L449.0,569.8 L449.5,569.9 L450.0,569.9 L450.5,570.0 L451.0,570.0 L451.5,570.1 L452.0,570.2 L452.5,570.2 L453.0,570.3 L453.5,570.4 L454.0,570.5 L454.5,570.5 L455.0,570.6 L455.5,570.7 L456.0,570.7 L456.5,570.8 L457.0,570.9 L457.5,571.2 L458.0,571.7 L458.5,572.5 L459.0,573.5 L459.5,574.6 L460.0,575.4 L460.5,576.1 L461.0,576.7 L461.5,577.0 L462.0,577.3 L462.5,577.7 L463.0,578.0 L463.5,578.3 L464.0,578.6 L464.5,578.9 L465.0,579.1 L465.5,579.2 L466.0,579.2 L466.5,579.1 L467.0,579.1 L467.5,579.1 L468.0,579.1 L468.5,579.2 L469.0,579.3 L469.5,579.5 L470.0,579.6 L470.5,579.8 L471.0,579.9 L471.5,580.0 L472.0,580.2 L472.5,580.4 L473.0,580.5 L473.5,580.6 L474.0,580.7 L474.5,580.7 L475.0,580.7 L475.5,580.6 L476.0,580.6 L476.5,580.5 L477.0,580.4 L477.5,580.2 L478.0,579.9 L478.5,579.7 L479.0,579.4 L479.5,579.1 L480.0,578.8 L480.5,578.5 L481.0,578.3 L481.5,578.0 L482.0,577.9 L482.5,577.8 L483.0,577.7 L483.5,577.7 L484.0,577.7 L484.5,577.7 L485.0,577.7 L485.5,577.7 L486.0,577.7 L486.5,577.7 L487.0,577.7 L487.5,577.7 L488.0,577.7 L488.5,577.7 L489.0,577.7 L489.5,577.7 L490.0,577.7 L490.5,577.7 L491.0,577.7 L491.5,577.7 L492.0,577.7 L492.5,577.7 L493.0,577.6 L493.5,577.5 L494.0,577.4 L494.5,577.3 L495.0,577.2 L495.5,577.1 L496.0,577.0 L496.5,576.9 L497.0,576.9 L497.5,576.9 L498.0,576.9 L498.5,576.9 L499.0,576.9 L499.5,576.9 L500.0,576.9 L500.5,576.9 L501.0,576.9 L501.5,576.9 L502.0,576.9 L502.5,576.9 L503.0,576.9 L503.5,576.9 L504.0,576.9 L504.5,576.9 L505.0,576.9 L505.5,576.9 L506.0,576.9 L506.5,576.9 L507.0,576.9 L507.5,576.9 L508.0,576.9 L508.5,576.9 L509.0,576.9 L509.5,576.9 L510.0,576.9 L510.5,576.9 L511.0,576.9 L511.5,576.9 L512.0,576.9 L512.5,576.9 L513.0,577.0 L513.5,577.2 L514.0,577.4 L514.5,577.6 L515.0,577.9 L515.5,578.1 L516.0,578.3 L516.5,578.6 L517.0,578.8 L517.5,579.0 L518.0,579.2 L518.5,579.3 L519.0,579.3 L519.5,579.3 L520.0,579.3 L520.5,579.3 L521.0,579.3 L521.5,579.3 L522.0,579.3 L522.5,579.3 L523.0,579.3 L523.5,579.3 L524.0,579.3 L524.5,579.3 L525.0,579.3 L525.5,579.3 L526.0,579.3 L526.5,579.2 L527.0,578.9 L527.5,578.5 L528.0,578.0 L528.5,577.3 L529.0,576.6 L529.5,576.1 L530.0,575.7 L530.5,575.4 L531.0,575.3 L531.5,575.3 L532.0,575.3 L532.5,575.3 L533.0,575.3 L533.5,575.3 L534.0,575.3 L534.5,575.3 L535.0,575.3 L535.5,575.3 L536.0,575.3 L536.5,575.3 L537.0,575.3 L537.5,575.3 L538.0,575.3 L538.5,575.3 L539.0,575.3 L539.5,575.3 L540.0,575.3 L540.5,575.3 L541.0,575.3 L541.5,575.3 L542.0,575.3 L542.5,575.3 L543.0,575.3 L543.5,575.3 L544.0,575.3 L544.5,575.3 L545.0,575.3 L545.5,575.3 L546.0,575.3 L546.5,575.3 L547.0,575.3 L547.5,575.3 L548.0,575.3 L548.5,575.3 L549.0,575.3 L549.5,575.3 L550.0,575.3 L550.5,575.3 L551.0,575.3 L551.5,575.3 L552.0,575.2 L552.5,575.1 L553.0,575.0 L553.5,574.8 L554.0,574.6 L554.5,574.5 L555.0,574.3 L555.5,574.1 L556.0,573.8 L556.5,573.5 L557.0,573.1 L557.5,572.7 L558.0,572.2 L558.5,571.8 L559.0,571.4 L559.5,571.0 L560.0,570.7 L560.5,570.5 L561.0,570.3 L561.5,570.2 L562.0,570.2 L562.5,570.1 L563.0,570.0 L563.5,569.9 L564.0,569.8 L564.5,569.7 L565.0,569.6 L565.5,569.5 L566.0,569.5 L566.5,569.4 L567.0,569.3 L567.5,569.2 L568.0,569.2 L568.5,569.1 L569.0,569.1 L569.5,569.1 L570.0,569.1 L570.5,569.1 L571.0,569.1 L571.5,569.1 L572.0,569.1 L572.5,569.1 L573.0,569.1 L573.5,569.1 L574.0,569.1 L574.5,569.1 L575.0,569.1 L575.5,569.1 L576.0,569.1 L576.5,569.1 L577.0,569.1 L577.5,569.3 L578.0,569.6 L578.5,570.1 L579.0,570.7 L579.5,571.6 L580.0,572.4 L580.5,573.1 L581.0,573.8 L581.5,574.4 L582.0,575.0 L582.5,575.5 L583.0,576.0 L583.5,576.4 L584.0,576.8 L584.5,577.1 L585.0,577.3 L585.5,577.5 L586.0,577.6 L586.5,577.8 L587.0,577.9 L587.5,578.1 L588.0,578.2 L588.5,578.3 L589.0,578.2 L589.5,578.1 L590.0,577.9 L590.5,577.7 L591.0,577.5 L591.5,577.2 L592.0,576.9 L592.5,576.6 L593.0,576.3 L593.5,576.0 L594.0,575.7 L594.5,575.4 L595.0,575.2 L595.5,575.1 L596.0,575.0 L596.5,575.0 L597.0,575.0 L597.5,575.0 L598.0,575.0 L598.5,575.0 L599.0,575.0 L599.5,575.0 L600.0,575.0 L600.5,575.0 L601.0,575.0 L601.5,575.0 L602.0,575.0 L602.5,575.0 L603.0,575.0 L603.5,575.0 L604.0,575.0 L604.5,575.0 L605.0,575.0 L605.5,575.0 L606.0,575.0 L606.5,575.0 L607.0,575.0 L607.5,575.0 L608.0,575.0 L608.5,575.0 L609.0,575.0 L609.5,575.0 L610.0,575.0 L610.5,575.1 L611.0,575.2 L611.5,575.4 L612.0,575.7 L612.5,576.0 L613.0,576.3 L613.5,576.6 L614.0,576.8 L614.5,577.0 L615.0,577.1 L615.5,577.1 L616.0,577.2 L616.5,577.2 L617.0,577.3 L617.5,577.3 L618.0,577.4 L618.5,577.4 L619.0,577.5 L619.5,577.5 L620.0,577.6 L620.5,577.6 L621.0,577.6 L621.5,577.6 L622.0,577.6 L622.5,577.6 L623.0,577.5 L623.5,577.5 L624.0,577.4 L624.5,577.4 L625.0,577.3 L625.5,577.3 L626.0,577.2 L626.5,577.2 L627.0,577.1 L627.5,576.9 L628.0,576.6 L628.5,576.1 L629.0,575.5 L629.5,574.8 L630.0,574.2 L630.5,573.6 L631.0,573.0 L631.5,572.6 L632.0,572.1 L632.5,571.7 L633.0,571.4 L633.5,571.2 L634.0,571.1 L634.5,571.1 L635.0,571.1 L635.5,571.1 L636.0,571.1 L636.5,571.1 L637.0,571.1 L637.5,571.1 L638.0,571.1 L638.5,571.1 L639.0,571.1 L639.5,571.1 L640.0,571.1 L640.5,571.1 L641.0,571.1 L641.5,571.1 L642.0,571.1 L642.5,571.2 L643.0,571.5 L643.5,571.8 L644.0,572.3 L644.5,572.9 L645.0,573.4 L645.5,573.9 L646.0,574.2 L646.5,574.4 L647.0,574.5 L647.5,574.4 L648.0,574.3 L648.5,574.2 L649.0,574.2 L649.5,574.0 L650.0,573.8 L650.5,573.4 L651.0,573.0 L651.5,572.6 L652.0,572.1 L652.5,571.7 L653.0,571.4 L653.5,571.2 L654.0,571.1 L654.5,571.1 L655.0,571.1 L655.5,571.1 L656.0,571.1 L656.5,571.1 L657.0,571.1 L657.5,571.1 L658.0,571.1 L658.5,571.1 L659.0,571.1 L659.5,571.1 L660.0,571.1 L660.5,571.1 L661.0,571.1 L661.5,571.1 L662.0,571.1 L662.5,571.1 L663.0,571.1 L663.5,571.1 L664.0,571.1 L664.5,571.1 L665.0,571.1 L665.5,571.1 L666.0,571.1 L666.5,571.2 L667.0,571.4 L667.5,571.7 L668.0,572.1 L668.5,572.6 L669.0,573.0 L669.5,573.3 L670.0,573.3 L670.5,573.1 L671.0,572.7 L671.5,572.1 L672.0,571.5 L672.5,571.0 L673.0,570.6 L673.5,570.3 L674.0,570.2 L674.5,570.2 L675.0,570.2 L675.5,570.2 L676.0,570.2 L676.5,570.2 L677.0,570.2 L677.5,570.2 L678.0,570.2 L678.5,570.2 L679.0,570.2 L679.5,570.2 L680.0,570.2 L680.5,570.2 L681.0,570.2 L681.5,570.2 L682.0,570.2 L682.5,570.3 L683.0,570.6 L683.5,571.0 L684.0,571.5 L684.5,572.1 L685.0,572.7 L685.5,573.2 L686.0,573.6 L686.5,573.9 L687.0,574.0 L687.5,574.0 L688.0,574.0 L688.5,574.0 L689.0,574.0 L689.5,574.0 L690.0,574.0 L690.5,574.0 L691.0,574.0 L691.5,574.0 L692.0,574.0 L692.5,574.0 L693.0,574.0 L693.5,573.9 L694.0,573.7 L694.5,573.4 L695.0,573.0 L695.5,572.6 L696.0,572.1 L696.5,571.7 L697.0,571.4 L697.5,571.2 L698.0,571.1 L698.5,571.1 L699.0,571.1 L699.5,571.1 L700.0,571.1 L700.5,571.1 L701.0,571.1 L701.5,571.1 L702.0,571.1 L702.5,571.1 L703.0,571.1 L703.5,571.1 L704.0,571.1 L704.5,571.1 L705.0,571.1 L705.5,571.2 L706.0,571.4 L706.5,571.7 L707.0,572.1 L707.5,572.6 L708.0,573.0 L708.5,573.5 L709.0,574.1 L709.5,574.7 L710.0,575.3 L710.5,575.8 L711.0,576.2 L711.5,576.5 L712.0,576.6 L712.5,576.6 L713.0,576.7 L713.5,576.7 L714.0,576.7 L714.5,576.7 L715.0,576.7 L715.5,576.7 L716.0,576.7 L716.5,576.8 L717.0,576.8 L717.5,576.8 L718.0,576.8 L718.5,576.8 L719.0,576.8 L719.5,576.8 L720.0,576.9 L720.5,576.9 L721.0,576.9 L721.5,576.9 L722.0,576.9 L722.5,576.9 L723.0,576.9 L723.5,576.9 L724.0,576.8 L724.5,576.8 L725.0,576.8 L725.5,576.8 L726.0,576.8 L726.5,576.8 L727.0,576.8 L727.5,576.8 L728.0,576.7 L728.5,576.7 L729.0,576.7 L729.5,576.7 L730.0,576.7 L730.5,576.7 L731.0,576.7 L731.5,576.7 L732.0,576.6 L732.5,576.6 L733.0,576.6 L733.5,576.5 L734.0,576.3 L734.5,576.1 L735.0,575.7 L735.5,575.3 L736.0,574.9 L736.5,574.5 L737.0,574.3 L737.5,574.1 L738.0,574.0 L738.5,574.0 L739.0,574.0 L739.5,574.0 L740.0,574.0 L740.5,574.0 L741.0,574.0 L741.5,574.0 L742.0,574.0 L742.5,574.0 L743.0,574.0 L743.5,574.0 L744.0,574.0 L744.5,573.9 L745.0,573.7 L745.5,573.3 L746.0,572.8 L746.5,572.2 L747.0,571.7 L747.5,571.2 L748.0,570.7 L748.5,570.4 L749.0,570.1 L749.5,569.9 L750.0,569.6 L750.5,569.4 L751.0,569.2 L751.5,569.0 L752.0,568.8 L752.5,568.6 L753.0,568.4 L753.5,568.1 L754.0,567.9 L754.5,567.7 L755.0,567.6 L755.5,567.5 L756.0,567.4 L756.5,567.3 L757.0,567.2 L757.5,567.2 L758.0,567.1 L758.5,567.0 L759.0,567.0 L759.5,566.9 L760.0,566.8 L760.5,566.8 L761.0,566.8 L761.5,566.7 L762.0,566.7 L762.5,566.8 L763.0,566.8 L763.5,566.8 L764.0,566.8 L764.5,566.8 L765.0,566.9 L765.5,566.9 L766.0,566.9 L766.5,566.9 L767.0,566.9 L767.5,567.0 L768.0,567.0 L768.5,567.0 L769.0,567.0 L769.5,567.0 L770.0,567.0 L770.5,567.1 L771.0,567.1 L771.5,567.1 L772.0,567.1 L772.5,567.1 L773.0,567.2 L773.5,567.4 L774.0,567.9 L774.5,568.6 L775.0,569.5 L775.5,570.6 L776.0,571.7 L776.5,572.8 L777.0,573.9 L777.5,575.0 L778.0,576.0 L778.5,577.0 L779.0,578.0 L779.5,578.8 L780.0,579.4 L780.5,579.8 L781.0,580.0 L781.5,580.0 L782.0,580.0 L782.5,580.0 L783.0,580.0 L783.5,580.0 L784.0,580.0 L784.5,580.0 L785.0,580.0 L785.5,580.0 L786.0,580.0 L786.5,580.0 L787.0,580.0 L787.5,580.0 L788.0,580.0 L788.5,580.0 L789.0,580.0 L789.5,580.1 L790.0,580.3 L790.5,580.6 L791.0,581.0 L791.5,581.6 L792.0,582.1 L792.5,582.6 L793.0,583.2 L793.5,583.7 L794.0,584.2 L794.5,584.7 L795.0,585.2 L795.5,585.6 L796.0,585.9 L796.5,586.0 L797.0,586.0 L797.5,585.9 L798.0,585.8 L798.5,585.6 L799.0,585.5 L799.5,585.4 L800.0,585.3 L800.5,584.9 L801.0,584.4 L801.5,583.7 L802.0,582.8 L802.5,581.8 L803.0,580.7 L803.5,579.8 L804.0,579.1 L804.5,578.7 L805.0,578.5 L805.5,578.5 L806.0,578.5 L806.5,578.5 L807.0,578.5 L807.5,578.5 L808.0,578.5 L808.5,578.5 L809.0,578.5 L809.5,578.5 L810.0,578.5 L810.5,578.5 L811.0,578.5 L811.5,578.5 L812.0,578.5 L812.5,578.4 L813.0,578.3 L813.5,578.2 L814.0,578.0 L814.5,577.7 L815.0,577.4 L815.5,577.2 L816.0,577.1 L816.5,577.0 L817.0,576.9 L817.5,576.9 L818.0,576.9 L818.5,576.9 L819.0,576.9 L819.5,576.9 L820.0,576.9 L820.5,576.9 L821.0,576.9 L821.5,576.9 L822.0,576.9 L822.5,576.9 L823.0,576.9 L823.5,576.9 L824.0,576.9 L824.5,576.9 L825.0,576.9 L825.5,576.9 L826.0,576.9 L826.5,576.9 L827.0,576.9 L827.5,576.9 L828.0,576.9 L828.5,576.8 L829.0,576.6 L829.5,576.3 L830.0,575.9 L830.5,575.5 L831.0,575.0 L831.5,574.6 L832.0,574.3 L832.5,574.1 L833.0,574.0 L833.5,574.0 L834.0,574.0 L834.5,574.0 L835.0,574.0 L835.5,574.0 L836.0,574.0 L836.5,574.0 L837.0,574.0 L837.5,574.0 L838.0,574.0 L838.5,574.0 L839.0,574.0 L839.5,573.8 L840.0,573.2 L840.5,572.5 L841.0,571.5 L841.5,570.2 L842.0,569.0 L842.5,568.0 L843.0,567.2 L843.5,566.7 L844.0,566.5 L844.5,566.5 L845.0,566.5 L845.5,566.5 L846.0,566.5 L846.5,566.4 L847.0,566.4 L847.5,566.4 L848.0,566.4 L848.5,566.4 L849.0,566.4 L849.5,566.4 L850.0,566.4 L850.5,566.4 L851.0,566.4 L851.5,566.4 L852.0,566.3 L852.5,566.3 L853.0,566.3 L853.5,566.3 L854.0,566.3 L854.5,566.3 L855.0,566.3 L855.5,566.2 L856.0,566.2 L856.5,566.2 L857.0,566.1 L857.5,566.1 L858.0,566.0 L858.5,566.0 L859.0,565.9 L859.5,565.9 L860.0,565.8 L860.5,565.8 L861.0,565.7 L861.5,565.7 L862.0,565.6 L862.5,565.6 L863.0,565.5 L863.5,565.5 L864.0,565.4 L864.5,565.4 L865.0,565.3 L865.5,565.3 L866.0,565.3 L866.5,565.4 L867.0,565.5 L867.5,565.6 L868.0,565.8 L868.5,566.0 L869.0,566.1 L869.5,566.3 L870.0,566.5 L870.5,566.7 L871.0,566.9 L871.5,567.2 L872.0,567.4 L872.5,567.6 L873.0,567.8 L873.5,568.0 L874.0,568.2 L874.5,568.5 L875.0,568.7 L875.5,568.8 L876.0,568.9 L876.5,568.8 L877.0,568.7 L877.5,568.5 L878.0,568.4 L878.5,568.2 L879.0,568.0 L879.5,567.8 L880.0,567.6 L880.5,567.4 L881.0,567.3 L881.5,567.1 L882.0,566.9 L882.5,566.7 L883.0,566.6 L883.5,566.5 L884.0,566.5 L884.5,566.6 L885.0,566.7 L885.5,566.9 L886.0,567.1 L886.5,567.2 L887.0,567.4 L887.5,567.5 L888.0,567.7 L888.5,567.9 L889.0,568.0 L889.5,568.2 L890.0,568.3 L890.5,568.5 L891.0,568.6 L891.5,568.6 L892.0,568.5 L892.5,568.4 L893.0,568.2 L893.5,568.0 L894.0,567.8 L894.5,567.6 L895.0,567.4 L895.5,567.2 L896.0,567.0 L896.5,566.8 L897.0,566.6 L897.5,566.6 L898.0,566.6 L898.5,566.8 L899.0,567.0 L899.5,567.3 L900.0,567.6 L900.5,567.8 L901.0,568.1 L901.5,568.4 L902.0,568.7 L902.5,568.9 L903.0,569.2 L903.5,569.5 L904.0,569.8 L904.5,570.0 L905.0,570.4 L905.5,570.8 L906.0,571.4 L906.5,572.0 L907.0,572.6 L907.5,573.5 L908.0,574.5 L908.5,575.7 L909.0,577.0 L909.5,578.2 L910.0,579.1 L910.5,579.8 L911.0,580.1 L911.5,580.2 L912.0,580.3 L912.5,580.3 L913.0,580.4 L913.5,580.5 L914.0,580.5 L914.5,580.6 L915.0,580.7 L915.5,580.6 L916.0,580.5 L916.5,580.4 L917.0,580.1 L917.5,579.8 L918.0,579.4 L918.5,579.0 L919.0,578.7 L919.5,578.4 L920.0,578.1 L920.5,577.9 L921.0,577.7 L921.5,577.6 L922.0,577.5 L922.5,577.3 L923.0,577.2 L923.5,577.1 L924.0,577.1 L924.5,577.1 L925.0,577.2 L925.5,577.4 L926.0,577.5 L926.5,577.6 L927.0,577.8 L927.5,578.0 L928.0,578.1 L928.5,578.2 L929.0,578.4 L929.5,578.5 L930.0,578.7 L930.5,578.9 L931.0,579.0 L931.5,579.1 L932.0,579.2 L932.5,579.3 L933.0,579.3 L933.5,579.3 L934.0,579.3 L934.5,579.3 L935.0,579.3 L935.5,579.3 L936.0,579.3 L936.5,579.3 L937.0,579.3 L937.5,579.3 L938.0,579.3 L938.5,579.3 L939.0,579.3 L939.5,579.3 L940.0,579.3 L940.5,579.1 L941.0,578.8 L941.5,578.4 L942.0,577.7 L942.5,577.0 L943.0,576.2 L943.5,575.5 L944.0,575.1 L944.5,574.8 L945.0,574.7 L945.5,574.8 L946.0,574.8 L946.5,574.9 L947.0,574.9 L947.5,575.0 L948.0,575.1 L948.5,575.3 L949.0,575.5 L949.5,575.7 L950.0,576.0 L950.5,576.2 L951.0,576.4 L951.5,576.7 L952.0,576.9 L952.5,577.1 L953.0,577.3 L953.5,577.1 L954.0,576.5 L954.5,575.5 L955.0,574.3 L955.5,572.7 L956.0,571.2 L956.5,569.8 L957.0,568.4 L957.5,567.3 L958.0,566.5 L958.5,565.9 L959.0,565.7 L959.5,565.7 L960.0,565.7 L960.5,565.7 L961.0,565.8 L961.5,565.8 L962.0,565.8 L962.5,565.9 L963.0,565.9 L963.5,565.9 L964.0,565.9 L964.5,566.0 L965.0,566.0 L965.5,566.0 L966.0,566.0 L966.5,566.0 L967.0,566.1 L967.5,566.1 L968.0,566.1 L968.5,566.1 L969.0,566.1 L969.5,566.1 L970.0,566.2 L970.5,566.2 L971.0,566.2 L971.5,566.2 L972.0,566.2 L972.5,566.2 L973.0,566.2 L973.5,566.3 L974.0,566.3 L974.5,566.5 L975.0,567.1 L975.5,567.8 L976.0,568.9 L976.5,570.2 L977.0,571.4 L977.5,572.8 L978.0,574.2 L978.5,575.7 L979.0,577.3 L979.5,579.0 L980.0,580.7 L980.5,582.0 L981.0,583.0 L981.5,583.8 L982.0,584.1 L982.5,584.2 L983.0,584.3 L983.5,584.4 L984.0,584.4 L984.5,584.5 L985.0,584.6 L985.5,584.6 L986.0,584.6 L986.5,584.6 L987.0,584.6 L987.5,584.6 L988.0,584.5 L988.5,584.5 L989.0,584.4 L989.5,584.4 L990.0,584.4 L990.5,584.3 L991.0,584.3 L991.5,584.2 L992.0,584.2 L992.5,584.1 L993.0,584.1 L993.5,583.9 L994.0,583.6 L994.5,583.1 L995.0,582.4 L995.5,581.6 L996.0,580.9 L996.5,580.2 L997.0,579.8 L997.5,579.5 L998.0,579.3 L998.5,579.3 L999.0,579.3 L999.5,579.3 L1000.0,579.3 L1000.5,579.3 L1001.0,579.3 L1001.5,579.3 L1002.0,579.3 L1002.5,579.3 L1003.0,579.3 L1003.5,579.3 L1004.0,579.3 L1004.5,579.3 L1005.0,579.3 L1005.5,579.3 L1006.0,579.3 L1006.5,579.3 L1007.0,579.3 L1007.5,579.3 L1008.0,579.3 L1008.5,579.3 L1009.0,579.3 L1009.5,579.3 L1010.0,579.3 L1010.5,579.3 L1011.0,579.3 L1011.5,579.3 L1012.0,579.3 L1012.5,579.2 L1013.0,579.0 L1013.5,578.7 L1014.0,578.2 L1014.5,577.7 L1015.0,577.2 L1015.5,576.6 L1016.0,576.1 L1016.5,575.6 L1017.0,575.1 L1017.5,574.5 L1018.0,574.0 L1018.5,573.4 L1019.0,572.8 L1019.5,572.2 L1020.0,571.6 L1020.5,570.9 L1021.0,570.3 L1021.5,569.8 L1022.0,569.5 L1022.5,569.2 L1023.0,569.1 L1023.5,569.1 L1024.0,569.1 L1024.5,569.1 L1025.0,569.1 L1025.5,569.1 L1026.0,569.1 L1026.5,569.1 L1027.0,569.1 L1027.5,569.1 L1028.0,569.1 L1028.5,569.1 L1029.0,569.1 L1029.5,569.1 L1030.0,569.1 L1030.5,569.1 L1031.0,569.1 L1031.5,569.1 L1032.0,569.1 L1032.5,569.3 L1033.0,569.8 L1033.5,570.6 L1034.0,571.6 L1034.5,572.7 L1035.0,573.9 L1035.5,575.0 L1036.0,576.0 L1036.5,577.0 L1037.0,578.0 L1037.5,578.8 L1038.0,579.4 L1038.5,579.8 L1039.0,580.0 L1039.5,580.0 L1040.0,580.0 L1040.5,580.0 L1041.0,580.0 L1041.5,580.0 L1042.0,580.0 L1042.5,580.0 L1043.0,580.0 L1043.5,580.0 L1044.0,580.0 L1044.5,580.0 L1045.0,580.0 L1045.5,580.0 L1046.0,580.0 L1046.5,580.0 L1047.0,580.0 L1047.5,580.0 L1048.0,580.0 L1048.5,580.0 L1049.0,580.0 L1049.5,580.0 L1050.0,580.0 L1050.5,580.0 L1051.0,580.0 L1051.5,580.1 L1052.0,580.2 L1052.5,580.4 L1053.0,580.6 L1053.5,580.9 L1054.0,581.2 L1054.5,581.5 L1055.0,581.8 L1055.5,581.9 L1056.0,581.9 L1056.5,581.7 L1057.0,581.3 L1057.5,580.8 L1058.0,580.2 L1058.5,579.6 L1059.0,579.1 L1059.5,578.6 L1060.0,578.2 L1060.5,577.9 L1061.0,577.6 L1061.5,577.5 L1062.0,577.3 L1062.5,577.1 L1063.0,577.0 L1063.5,576.9 L1064.0,576.9 L1064.5,576.9 L1065.0,576.9 L1065.5,576.9 L1066.0,576.9 L1066.5,576.9 L1067.0,576.9 L1067.5,576.9 L1068.0,576.9 L1068.5,576.9 L1069.0,576.9 L1069.5,576.9 L1070.0,576.9 L1070.5,576.9 L1071.0,576.9 L1071.5,576.9 L1072.0,577.0 L1072.5,577.2 L1073.0,577.4 L1073.5,577.6 L1074.0,577.8 L1074.5,578.1 L1075.0,578.3 L1075.5,578.5 L1076.0,578.8 L1076.5,579.0 L1077.0,579.2 L1077.5,579.3 L1078.0,579.3 L1078.5,579.1 L1079.0,578.8 L1079.5,578.3 L1080.0,577.9 L1080.5,577.4 L1081.0,576.9 L1081.5,576.5 L1082.0,576.2 L1082.5,575.9 L1083.0,575.7 L1083.5,575.5 L1084.0,575.3 L1084.5,575.1 L1085.0,575.0 L1085.5,574.9 L1086.0,574.9 L1086.5,575.0 L1087.0,575.2 L1087.5,575.5 L1088.0,575.8 L1088.5,576.1 L1089.0,576.4 L1089.5,576.7 L1090.0,577.0 L1090.5,577.3 L1091.0,577.6 L1091.5,577.9 L1092.0,578.1 L1092.5,578.4 L1093.0,578.7 L1093.5,578.9 L1094.0,578.9 L1094.5,578.8 L1095.0,578.6 L1095.5,578.2 L1096.0,577.9 L1096.5,577.5 L1097.0,577.1 L1097.5,576.8 L1098.0,576.6 L1098.5,576.5 L1099.0,576.4 L1099.5,576.4 L1100.0,576.4 L1100.5,576.4 L1101.0,576.4 L1101.5,576.3 L1102.0,576.0 L1102.5,575.7 L1103.0,575.2 L1103.5,574.6 L1104.0,573.9 L1104.5,573.2 L1105.0,572.4 L1105.5,571.7 L1106.0,571.2 L1106.5,570.8 L1107.0,570.6 L1107.5,570.5 L1108.0,570.4 L1108.5,570.3 L1109.0,570.2 L1109.5,570.1 L1110.0,570.0 L1110.5,569.9 L1111.0,569.8 L1111.5,569.7 L1112.0,569.6 L1112.5,569.5 L1113.0,569.4 L1113.5,569.3 L1114.0,569.3 L1114.5,569.4 L1115.0,569.5 L1115.5,569.6 L1116.0,569.7 L1116.5,569.9 L1117.0,570.0 L1117.5,570.1 L1118.0,570.3 L1118.5,570.4 L1119.0,570.5 L1119.5,570.8 L1120.0,571.2 L1120.5,571.7 L1121.0,572.4 L1121.5,572.9 L1122.0,573.1 L1122.5,573.0 L1123.0,572.7 L1123.5,572.0 L1124.0,571.3 L1124.5,570.8 L1125.0,570.3 L1125.5,569.9 L1126.0,569.5 L1126.5,569.3 L1127.0,569.1 L1127.5,568.9 L1128.0,568.6 L1128.5,568.4 L1129.0,568.2 L1129.5,567.9 L1130.0,567.8 L1130.5,567.6 L1131.0,567.4 L1131.5,567.3 L1132.0,567.1 L1132.5,567.0 L1133.0,566.8 L1133.5,566.7 L1134.0,566.6 L1134.5,566.4 L1135.0,566.3 L1135.5,566.1 L1136.0,566.0 L1136.5,565.8 L1137.0,565.7 L1137.5,565.5 L1138.0,565.4 L1138.5,565.4 L1139.0,565.5 L1139.5,565.6 L1140.0,565.7 L1140.5,566.0 L1141.0,566.2 L1141.5,566.4 L1142.0,566.6 L1142.5,567.0 L1143.0,567.6 L1143.5,568.4 L1144.0,569.3 L1144.5,570.5 L1145.0,571.7 L1145.5,572.8 L1146.0,573.8 L1146.5,574.7 L1147.0,575.5 L1147.5,576.1 L1148.0,576.6 L1148.5,576.9 L1149.0,577.1 L1149.5,577.1 L1150.0,577.2 L1150.5,577.2 L1151.0,577.2 L1151.5,577.3 L1152.0,577.3 L1152.5,577.3 L1153.0,577.4 L1153.5,577.3 L1154.0,577.3 L1154.5,577.3 L1155.0,577.2 L1155.5,577.2 L1156.0,577.2 L1156.5,577.1 L1157.0,577.1 L1157.5,576.9 L1158.0,576.6 L1158.5,576.1 L1159.0,575.5 L1159.5,574.6 L1160.0,573.6 L1160.5,572.7 L1161.0,572.0 L1161.5,571.4 L1162.0,571.1 L1162.5,571.1 L1163.0,571.1 L1163.5,571.1 L1164.0,571.1 L1164.5,571.1 L1165.0,571.1 L1165.5,571.1 L1166.0,571.1 L1166.5,571.1 L1167.0,571.1 L1167.5,571.1 L1168.0,571.1 L1168.5,571.1 L1169.0,571.1 L1169.5,571.2 L1170.0,571.5 L1170.5,572.0 L1171.0,572.5 L1171.5,573.2 L1172.0,573.8 L1172.5,574.3 L1173.0,574.8 L1173.5,575.2 L1174.0,575.6 L1174.5,575.9 L1175.0,576.0 L1175.5,576.0 L1176.0,575.9 L1176.5,575.7 L1177.0,575.5 L1177.5,575.2 L1178.0,575.0 L1178.5,574.8 L1179.0,574.7 L1179.5,574.5 L1180.0,574.3 L1180.5,574.1 L1181.0,573.8 L1181.5,573.4 L1182.0,572.9 L1182.5,572.4 L1183.0,571.8 L1183.5,571.2 L1184.0,570.7 L1184.5,570.2 L1185.0,569.6 L1185.5,569.1 L1186.0,568.8 L1186.5,568.5 L1187.0,568.4 L1187.5,568.3 L1188.0,568.2 L1188.5,568.2 L1189.0,568.1 L1189.5,568.1 L1190.0,568.0 L1190.5,568.0 L1191.0,568.0 L1191.5,568.0 L1192.0,568.0 L1192.5,568.0 L1193.0,568.0 L1193.5,568.0 L1194.0,568.0 L1194.5,568.0 L1194.0,574.0 Z" fill="#0000f0" stroke="none" shape-rendering="crispEdges"/>
<path d="M6.0,559.3 L7.0,559.2 L8.0,559.1 L9.0,558.8 L10.0,558.5 L11.0,558.2 L12.0,557.8 L13.0,557.5 L14.0,557.1 L15.0,556.7 L16.0,556.3 L17.0,556.0 L18.0,555.6 L19.0,555.3 L20.0,555.0 L21.0,554.6 L22.0,554.4 L23.0,554.1 L24.0,554.0 L25.0,553.9 L26.0,553.8 L27.0,553.7 L28.0,553.7 L29.0,553.7 L30.0,554.0 L31.0,554.5 L32.0,555.2 L33.0,556.3 L34.0,557.9 L35.0,559.8 L36.0,562.0 L37.0,564.7 L38.0,567.7 L39.0,570.5 L40.0,572.8 L41.0,574.6 L42.0,576.0 L43.0,577.2 L44.0,578.1 L45.0,578.9 L46.0,579.4 L47.0,579.9 L48.0,580.3 L49.0,580.6 L50.0,580.9 L51.0,581.2 L52.0,581.5 L53.0,581.9 L54.0,582.3 L55.0,582.7 L56.0,583.2 L57.0,583.7 L58.0,584.1 L59.0,584.7 L60.0,585.2 L61.0,585.7 L62.0,586.3 L63.0,586.9 L64.0,587.5 L65.0,588.0 L66.0,588.6 L67.0,589.1 L68.0,589.4 L69.0,589.5 L70.0,589.6 L71.0,589.5 L72.0,589.4 L73.0,589.2 L74.0,589.0 L75.0,588.8 L76.0,588.5 L77.0,588.1 L78.0,587.7 L79.0,587.2 L80.0,586.7 L81.0,586.2 L82.0,585.7 L83.0,585.1 L84.0,584.5 L85.0,584.0 L86.0,583.3 L87.0,582.7 L88.0,582.0 L89.0,581.3 L90.0,580.7 L91.0,580.0 L92.0,579.6 L93.0,579.4 L94.0,579.3 L95.0,579.3 L96.0,579.4 L97.0,579.5 L98.0,579.7 L99.0,579.8 L100.0,580.0 L101.0,580.2 L102.0,580.4 L103.0,580.5 L104.0,580.7 L105.0,580.9 L106.0,581.1 L107.0,581.1 L108.0,581.0 L109.0,580.8 L110.0,580.5 L111.0,580.2 L112.0,579.8 L113.0,579.2 L114.0,578.5 L115.0,577.7 L116.0,576.9 L117.0,576.0 L118.0,575.1 L119.0,574.2 L120.0,573.2 L121.0,572.3 L122.0,571.3 L123.0,570.2 L124.0,568.9 L125.0,567.5 L126.0,566.1 L127.0,564.5 L128.0,563.0 L129.0,561.4 L130.0,559.7 L131.0,558.1 L132.0,556.7 L133.0,555.6 L134.0,554.6 L135.0,553.8 L136.0,553.0 L137.0,552.3 L138.0,551.7 L139.0,551.1 L140.0,550.6 L141.0,550.1 L142.0,549.6 L143.0,549.2 L144.0,548.9 L145.0,548.6 L146.0,548.4 L147.0,548.2 L148.0,548.0 L149.0,547.8 L150.0,547.7 L151.0,547.6 L152.0,547.5 L153.0,547.4 L154.0,547.4 L155.0,547.3 L156.0,547.3 L157.0,547.3 L158.0,547.2 L159.0,547.2 L160.0,547.2 L161.0,547.1 L162.0,547.1 L163.0,547.1 L164.0,547.1 L165.0,547.1 L166.0,547.1 L167.0,547.1 L168.0,547.2 L169.0,547.3 L170.0,547.4 L171.0,547.5 L172.0,547.6 L173.0,547.7 L174.0,547.8 L175.0,547.7 L176.0,547.4 L177.0,547.0 L178.0,546.6 L179.0,546.1 L180.0,545.6 L181.0,545.1 L182.0,544.7 L183.0,544.4 L184.0,544.2 L185.0,544.0 L186.0,543.9 L187.0,543.8 L188.0,543.7 L189.0,543.7 L190.0,543.6 L191.0,543.8 L192.0,544.2 L193.0,544.7 L194.0,545.3 L195.0,546.0 L196.0,546.7 L197.0,547.5 L198.0,548.1 L199.0,548.8 L200.0,549.4 L201.0,549.9 L202.0,550.5 L203.0,551.0 L204.0,551.5 L205.0,551.9 L206.0,552.2 L207.0,552.5 L208.0,552.6 L209.0,552.7 L210.0,552.8 L211.0,552.8 L212.0,552.9 L213.0,552.9 L214.0,553.0 L215.0,553.4 L216.0,554.1 L217.0,554.9 L218.0,555.8 L219.0,556.9 L220.0,557.9 L221.0,558.9 L222.0,559.8 L223.0,560.6 L224.0,561.4 L225.0,562.1 L226.0,562.8 L227.0,563.5 L228.0,564.2 L229.0,564.9 L230.0,565.6 L231.0,566.2 L232.0,566.7 L233.0,567.2 L234.0,567.5 L235.0,567.9 L236.0,568.0 L237.0,568.0 L238.0,567.9 L239.0,567.7 L240.0,567.3 L241.0,567.0 L242.0,566.5 L243.0,565.9 L244.0,565.1 L245.0,564.3 L246.0,563.4 L247.0,562.4 L248.0,561.4 L249.0,560.4 L250.0,559.3 L251.0,558.3 L252.0,557.2 L253.0,556.1 L254.0,555.1 L255.0,554.0 L256.0,553.0 L257.0,552.0 L258.0,551.0 L259.0,549.9 L260.0,548.9 L261.0,547.9 L262.0,546.9 L263.0,545.9 L264.0,544.8 L265.0,543.4 L266.0,541.8 L267.0,540.1 L268.0,538.2 L269.0,536.3 L270.0,534.3 L271.0,532.2 L272.0,530.3 L273.0,528.4 L274.0,526.7 L275.0,525.1 L276.0,523.5 L277.0,522.0 L278.0,520.6 L279.0,519.6 L280.0,518.9 L281.0,518.4 L282.0,518.1 L283.0,517.9 L284.0,517.9 L285.0,518.0 L286.0,518.1 L287.0,518.4 L288.0,518.6 L289.0,518.9 L290.0,519.3 L291.0,519.5 L292.0,519.7 L293.0,519.8 L294.0,519.8 L295.0,519.9 L296.0,519.9 L297.0,519.8 L298.0,519.8 L299.0,519.8 L300.0,519.7 L301.0,519.6 L302.0,519.4 L303.0,519.3 L304.0,519.1 L305.0,518.9 L306.0,518.6 L307.0,518.5 L308.0,518.5 L309.0,518.5 L310.0,518.5 L311.0,518.7 L312.0,518.9 L313.0,519.3 L314.0,519.7 L315.0,520.2 L316.0,520.7 L317.0,521.1 L318.0,521.5 L319.0,521.8 L320.0,522.1 L321.0,522.4 L322.0,522.7 L323.0,523.0 L324.0,523.3 L325.0,523.6 L326.0,523.8 L327.0,524.0 L328.0,524.1 L329.0,524.3 L330.0,524.5 L331.0,524.7 L332.0,525.0 L333.0,525.3 L334.0,525.7 L335.0,526.2 L336.0,526.6 L337.0,527.0 L338.0,527.5 L339.0,528.0 L340.0,528.4 L341.0,528.7 L342.0,529.0 L343.0,529.2 L344.0,529.4 L345.0,529.5 L346.0,529.7 L347.0,529.8 L348.0,529.9 L349.0,530.0 L350.0,530.1 L351.0,530.1 L352.0,529.8 L353.0,529.5 L354.0,529.1 L355.0,528.6 L356.0,528.1 L357.0,527.5 L358.0,527.0 L359.0,526.5 L360.0,526.1 L361.0,525.6 L362.0,525.2 L363.0,524.8 L364.0,524.4 L365.0,524.0 L366.0,523.6 L367.0,523.2 L368.0,522.9 L369.0,522.5 L370.0,522.1 L371.0,521.8 L372.0,521.5 L373.0,521.4 L374.0,521.4 L375.0,521.4 L376.0,521.4 L377.0,521.5 L378.0,521.6 L379.0,521.7 L380.0,521.8 L381.0,521.9 L382.0,522.0 L383.0,522.2 L384.0,522.5 L385.0,523.1 L386.0,523.9 L387.0,524.8 L388.0,525.8 L389.0,526.9 L390.0,528.0 L391.0,529.2 L392.0,530.1 L393.0,530.8 L394.0,531.3 L395.0,531.8 L396.0,532.1 L397.0,532.4 L398.0,532.6 L399.0,532.8 L400.0,533.0 L401.0,533.1 L402.0,533.3 L403.0,533.4 L404.0,533.4 L405.0,533.4 L406.0,533.3 L407.0,533.1 L408.0,532.8 L409.0,532.4 L410.0,531.9 L411.0,531.2 L412.0,530.4 L413.0,529.6 L414.0,528.8 L415.0,527.9 L416.0,527.0 L417.0,526.0 L418.0,525.1 L419.0,524.1 L420.0,523.1 L421.0,522.1 L422.0,521.2 L423.0,520.2 L424.0,519.2 L425.0,518.2 L426.0,517.3 L427.0,516.3 L428.0,515.4 L429.0,514.5 L430.0,513.6 L431.0,512.7 L432.0,511.7 L433.0,510.8 L434.0,509.9 L435.0,509.0 L436.0,508.1 L437.0,507.2 L438.0,506.3 L439.0,505.4 L440.0,504.5 L441.0,503.5 L442.0,502.6 L443.0,501.6 L444.0,500.7 L445.0,499.7 L446.0,498.7 L447.0,497.7 L448.0,496.9 L449.0,496.1 L450.0,495.5 L451.0,495.0 L452.0,494.5 L453.0,494.0 L454.0,493.6 L455.0,493.3 L456.0,492.9 L457.0,492.6 L458.0,492.5 L459.0,492.6 L460.0,492.8 L461.0,493.2 L462.0,493.7 L463.0,494.6 L464.0,495.8 L465.0,497.2 L466.0,498.8 L467.0,500.5 L468.0,502.2 L469.0,503.8 L470.0,505.3 L471.0,506.7 L472.0,508.1 L473.0,509.4 L474.0,510.7 L475.0,512.8 L476.0,515.5 L477.0,518.0 L478.0,520.0 L479.0,521.8 L480.0,523.3 L481.0,524.6 L482.0,525.7 L483.0,526.8 L484.0,527.8 L485.0,528.7 L486.0,529.6 L487.0,530.5 L488.0,531.2 L489.0,532.0 L490.0,532.6 L491.0,533.3 L492.0,533.9 L493.0,534.5 L494.0,535.1 L495.0,535.7 L496.0,536.3 L497.0,536.9 L498.0,537.5 L499.0,538.1 L500.0,538.8 L501.0,539.6 L502.0,540.5 L503.0,541.4 L504.0,542.4 L505.0,543.4 L506.0,544.4 L507.0,545.4 L508.0,546.3 L509.0,547.2 L510.0,548.0 L511.0,548.9 L512.0,549.7 L513.0,550.6 L514.0,551.4 L515.0,552.2 L516.0,553.1 L517.0,553.9 L518.0,554.8 L519.0,556.0 L520.0,557.6 L521.0,559.3 L522.0,561.2 L523.0,563.2 L524.0,565.4 L525.0,567.3 L526.0,569.0 L527.0,570.7 L528.0,572.2 L529.0,573.7 L530.0,575.0 L531.0,576.2 L532.0,577.1 L533.0,577.9 L534.0,578.5 L535.0,578.9 L536.0,579.2 L537.0,579.4 L538.0,579.5 L539.0,579.6 L540.0,579.6 L541.0,579.6 L542.0,579.6 L543.0,579.6 L544.0,579.6 L545.0,579.8 L546.0,580.0 L547.0,580.3 L548.0,580.6 L549.0,580.9 L550.0,581.3 L551.0,581.7 L552.0,582.1 L553.0,582.6 L554.0,582.8 L555.0,582.9 L556.0,582.8 L557.0,582.8 L558.0,582.6 L559.0,582.4 L560.0,581.9 L561.0,581.2 L562.0,580.2 L563.0,579.2 L564.0,578.0 L565.0,576.7 L566.0,575.4 L567.0,574.1 L568.0,572.8 L569.0,571.7 L570.0,570.6 L571.0,569.5 L572.0,568.5 L573.0,567.5 L574.0,566.5 L575.0,565.6 L576.0,564.6 L577.0,563.9 L578.0,563.3 L579.0,563.0 L580.0,562.8 L581.0,562.7 L582.0,562.9 L583.0,563.4 L584.0,564.0 L585.0,564.8 L586.0,565.7 L587.0,566.7 L588.0,567.8 L589.0,568.9 L590.0,570.1 L591.0,571.3 L592.0,572.5 L593.0,573.6 L594.0,574.3 L595.0,574.8 L596.0,575.0 L597.0,575.1 L598.0,575.0 L599.0,575.0 L600.0,575.0 L601.0,575.0 L602.0,575.0 L603.0,575.0 L604.0,575.1 L605.0,575.3 L606.0,575.5 L607.0,575.7 L608.0,576.0 L609.0,576.2 L610.0,576.6 L611.0,576.9 L612.0,577.3 L613.0,577.7 L614.0,578.2 L615.0,578.7 L616.0,579.2 L617.0,579.9 L618.0,580.7 L619.0,581.6 L620.0,582.5 L621.0,583.5 L622.0,584.5 L623.0,585.4 L624.0,586.1 L625.0,586.8 L626.0,587.4 L627.0,587.9 L628.0,588.5 L629.0,588.8 L630.0,588.9 L631.0,588.8 L632.0,588.7 L633.0,588.5 L634.0,588.2 L635.0,587.8 L636.0,587.4 L637.0,586.9 L638.0,586.3 L639.0,585.7 L640.0,585.1 L641.0,584.5 L642.0,583.8 L643.0,583.4 L644.0,583.1 L645.0,583.0 L646.0,583.0 L647.0,583.1 L648.0,583.2 L649.0,583.4 L650.0,583.6 L651.0,583.6 L652.0,583.5 L653.0,583.3 L654.0,583.0 L655.0,582.7 L656.0,582.3 L657.0,581.9 L658.0,581.4 L659.0,581.0 L660.0,580.5 L661.0,580.1 L662.0,579.6 L663.0,579.1 L664.0,578.6 L665.0,578.1 L666.0,577.6 L667.0,577.1 L668.0,576.6 L669.0,576.1 L670.0,575.6 L671.0,575.0 L672.0,574.3 L673.0,573.5 L674.0,572.7 L675.0,571.8 L676.0,570.9 L677.0,570.0 L678.0,569.0 L679.0,568.1 L680.0,567.2 L681.0,566.4 L682.0,565.8 L683.0,565.3 L684.0,564.8 L685.0,564.3 L686.0,563.9 L687.0,563.6 L688.0,563.2 L689.0,562.9 L690.0,562.6 L691.0,562.3 L692.0,562.0 L693.0,561.6 L694.0,561.3 L695.0,560.9 L696.0,560.5 L697.0,560.1 L698.0,559.7 L699.0,559.3 L700.0,558.9 L701.0,558.5 L702.0,558.1 L703.0,557.7 L704.0,557.2 L705.0,556.8 L706.0,556.4 L707.0,556.0 L708.0,555.6 L709.0,555.4 L710.0,555.3 L711.0,555.3 L712.0,555.3 L713.0,555.4 L714.0,555.6 L715.0,555.8 L716.0,556.2 L717.0,556.6 L718.0,557.1 L719.0,557.6 L720.0,558.2 L721.0,558.8 L722.0,559.5 L723.0,560.1 L724.0,560.8 L725.0,561.5 L726.0,562.2 L727.0,562.8 L728.0,563.5 L729.0,564.3 L730.0,565.0 L731.0,565.5 L732.0,565.8 L733.0,566.0 L734.0,566.0 L735.0,566.0 L736.0,565.9 L737.0,565.7 L738.0,565.6 L739.0,565.4 L740.0,565.2 L741.0,565.0 L742.0,564.8 L743.0,564.6 L744.0,564.4 L745.0,564.2 L746.0,564.0 L747.0,563.5 L748.0,562.8 L749.0,561.9 L750.0,560.8 L751.0,559.7 L752.0,558.5 L753.0,557.3 L754.0,556.0 L755.0,554.6 L756.0,553.2 L757.0,551.7 L758.0,550.1 L759.0,548.4 L760.0,546.7 L761.0,544.9 L762.0,543.1 L763.0,541.3 L764.0,539.5 L765.0,537.6 L766.0,535.8 L767.0,534.1 L768.0,532.6 L769.0,531.2 L770.0,529.9 L771.0,528.7 L772.0,527.5 L773.0,526.4 L774.0,525.3 L775.0,524.2 L776.0,523.3 L777.0,522.8 L778.0,522.5 L779.0,522.5 L780.0,522.7 L781.0,523.2 L782.0,524.1 L783.0,525.2 L784.0,526.6 L785.0,528.1 L786.0,529.7 L787.0,531.4 L788.0,532.9 L789.0,534.4 L790.0,535.8 L791.0,537.4 L792.0,539.5 L793.0,542.0 L794.0,544.8 L795.0,547.9 L796.0,551.0 L797.0,554.4 L798.0,558.0 L799.0,561.7 L800.0,565.4 L801.0,568.5 L802.0,571.1 L803.0,573.4 L804.0,575.3 L805.0,577.1 L806.0,578.6 L807.0,579.8 L808.0,580.9 L809.0,581.8 L810.0,582.6 L811.0,583.3 L812.0,583.9 L813.0,584.4 L814.0,584.8 L815.0,585.1 L816.0,585.3 L817.0,585.5 L818.0,585.6 L819.0,585.7 L820.0,586.0 L821.0,586.7 L822.0,587.6 L823.0,588.7 L824.0,589.9 L825.0,590.9 L826.0,591.7 L827.0,592.3 L828.0,592.8 L829.0,593.1 L830.0,593.4 L831.0,593.7 L832.0,593.9 L833.0,594.0 L834.0,594.2 L835.0,594.3 L836.0,594.4 L837.0,594.3 L838.0,594.2 L839.0,594.1 L840.0,594.0 L841.0,593.8 L842.0,593.4 L843.0,592.6 L844.0,591.5 L845.0,590.3 L846.0,588.9 L847.0,587.3 L848.0,585.7 L849.0,583.8 L850.0,581.8 L851.0,579.7 L852.0,577.6 L853.0,575.3 L854.0,573.0 L855.0,570.7 L856.0,568.4 L857.0,566.2 L858.0,564.0 L859.0,561.8 L860.0,559.6 L861.0,557.5 L862.0,555.3 L863.0,553.2 L864.0,551.0 L865.0,548.9 L866.0,546.8 L867.0,544.7 L868.0,542.6 L869.0,540.8 L870.0,539.3 L871.0,538.0 L872.0,536.9 L873.0,536.0 L874.0,535.1 L875.0,534.3 L876.0,533.5 L877.0,532.5 L878.0,531.3 L879.0,530.0 L880.0,528.6 L881.0,527.2 L882.0,525.7 L883.0,524.2 L884.0,522.6 L885.0,521.1 L886.0,519.5 L887.0,517.9 L888.0,516.4 L889.0,515.0 L890.0,513.7 L891.0,512.4 L892.0,511.2 L893.0,510.0 L894.0,508.8 L895.0,507.5 L896.0,506.1 L897.0,504.6 L898.0,502.9 L899.0,501.3 L900.0,499.6 L901.0,497.9 L902.0,496.7 L903.0,495.7 L904.0,495.0 L905.0,494.4 L906.0,493.9 L907.0,493.9 L908.0,494.2 L909.0,494.7 L910.0,495.4 L911.0,496.3 L912.0,497.5 L913.0,499.0 L914.0,500.9 L915.0,502.9 L916.0,505.2 L917.0,507.5 L918.0,509.8 L919.0,511.6 L920.0,513.2 L921.0,514.5 L922.0,515.6 L923.0,516.7 L924.0,517.6 L925.0,518.4 L926.0,519.3 L927.0,520.2 L928.0,521.0 L929.0,521.9 L930.0,522.8 L931.0,523.6 L932.0,524.5 L933.0,525.6 L934.0,526.9 L935.0,528.3 L936.0,529.9 L937.0,531.5 L938.0,533.2 L939.0,535.0 L940.0,536.8 L941.0,538.1 L942.0,539.1 L943.0,539.7 L944.0,540.1 L945.0,540.3 L946.0,540.5 L947.0,540.9 L948.0,541.6 L949.0,542.3 L950.0,543.1 L951.0,544.0 L952.0,545.0 L953.0,545.8 L954.0,545.8 L955.0,545.1 L956.0,543.9 L957.0,542.3 L958.0,540.7 L959.0,539.0 L960.0,537.3 L961.0,535.6 L962.0,533.9 L963.0,532.1 L964.0,530.4 L965.0,528.7 L966.0,527.2 L967.0,525.7 L968.0,524.4 L969.0,523.0 L970.0,521.7 L971.0,520.4 L972.0,519.2 L973.0,517.9 L974.0,517.0 L975.0,516.4 L976.0,516.2 L977.0,516.2 L978.0,516.4 L979.0,516.7 L980.0,517.3 L981.0,518.5 L982.0,520.2 L983.0,522.2 L984.0,524.4 L985.0,526.8 L986.0,529.4 L987.0,532.1 L988.0,534.9 L989.0,537.9 L990.0,540.8 L991.0,543.9 L992.0,546.6 L993.0,549.0 L994.0,551.1 L995.0,552.9 L996.0,554.6 L997.0,556.2 L998.0,557.6 L999.0,559.0 L1000.0,560.4 L1001.0,561.7 L1002.0,563.1 L1003.0,564.6 L1004.0,566.0 L1005.0,567.5 L1006.0,569.0 L1007.0,570.4 L1008.0,571.9 L1009.0,573.4 L1010.0,574.8 L1011.0,576.0 L1012.0,577.0 L1013.0,577.9 L1014.0,578.8 L1015.0,579.5 L1016.0,580.3 L1017.0,581.0 L1018.0,581.6 L1019.0,581.9 L1020.0,582.1 L1021.0,582.1 L1022.0,582.1 L1023.0,581.6 L1024.0,580.9 L1025.0,579.9 L1026.0,578.8 L1027.0,577.6 L1028.0,576.2 L1029.0,574.8 L1030.0,573.4 L1031.0,572.0 L1032.0,571.4 L1033.0,571.3 L1034.0,571.8 L1035.0,572.5 L1036.0,573.5 L1037.0,574.7 L1038.0,576.0 L1039.0,577.4 L1040.0,578.7 L1041.0,580.0 L1042.0,581.2 L1043.0,582.5 L1044.0,583.8 L1045.0,585.0 L1046.0,586.8 L1047.0,589.2 L1048.0,591.7 L1049.0,594.1 L1050.0,596.3 L1051.0,598.4 L1052.0,600.5 L1053.0,602.5 L1054.0,604.4 L1055.0,606.4 L1056.0,608.3 L1057.0,610.0 L1058.0,611.6 L1059.0,613.0 L1060.0,614.2 L1061.0,615.3 L1062.0,616.4 L1063.0,617.4 L1064.0,618.3 L1065.0,619.1 L1066.0,619.8 L1067.0,620.4 L1068.0,621.0 L1069.0,621.6 L1070.0,622.2 L1071.0,623.1 L1072.0,624.1 L1073.0,625.2 L1074.0,626.4 L1075.0,627.7 L1076.0,629.0 L1077.0,630.4 L1078.0,631.8 L1079.0,633.1 L1080.0,634.1 L1081.0,634.8 L1082.0,635.3 L1083.0,635.6 L1084.0,635.8 L1085.0,636.0 L1086.0,636.0 L1087.0,636.0 L1088.0,636.0 L1089.0,636.5 L1090.0,637.4 L1091.0,638.5 L1092.0,639.9 L1093.0,641.4 L1094.0,643.0 L1095.0,644.4 L1096.0,645.6 L1097.0,646.6 L1098.0,647.6 L1099.0,648.4 L1100.0,649.2 L1101.0,649.7 L1102.0,649.9 L1103.0,649.9 L1104.0,649.8 L1105.0,649.6 L1106.0,649.3 L1107.0,649.0 L1108.0,648.5 L1109.0,647.9 L1110.0,647.1 L1111.0,646.2 L1112.0,645.2 L1113.0,644.2 L1114.0,643.1 L1115.0,642.0 L1116.0,641.2 L1117.0,640.7 L1118.0,640.3 L1119.0,640.0 L1120.0,639.8 L1121.0,639.7 L1122.0,639.6 L1123.0,639.6 L1124.0,639.5 L1125.0,639.2 L1126.0,638.6 L1127.0,637.8 L1128.0,636.9 L1129.0,635.9 L1130.0,634.8 L1131.0,633.7 L1132.0,632.3 L1133.0,630.5 L1134.0,628.6 L1135.0,626.4 L1136.0,624.2 L1137.0,622.1 L1138.0,620.1 L1139.0,618.1 L1140.0,616.2 L1141.0,614.4 L1142.0,612.7 L1143.0,611.6 L1144.0,611.0 L1145.0,610.8 L1146.0,610.9 L1147.0,611.1 L1148.0,611.6 L1149.0,612.1 L1150.0,612.9 L1151.0,613.7 L1152.0,614.5 L1153.0,615.5 L1154.0,616.4 L1155.0,617.4 L1156.0,618.5 L1157.0,619.4 L1158.0,620.0 L1159.0,620.3 L1160.0,620.3 L1161.0,620.2 L1162.0,620.0 L1163.0,619.7 L1164.0,619.3 L1165.0,618.8 L1166.0,618.3 L1167.0,617.7 L1168.0,617.1 L1169.0,616.4 L1170.0,615.9 L1171.0,615.8 L1172.0,615.9 L1173.0,616.3 L1174.0,616.7 L1175.0,617.3 L1176.0,618.0 L1177.0,618.5 L1178.0,618.8 L1179.0,619.0 L1180.0,619.1 L1181.0,618.8 L1182.0,618.3 L1183.0,617.6 L1184.0,616.7 L1185.0,615.7 L1186.0,614.6 L1187.0,613.4 L1188.0,612.1 L1189.0,610.6 L1190.0,609.1 L1191.0,607.5 L1192.0,605.8 L1193.0,604.2 L1194.0,602.7" fill="none" stroke="#000" stroke-width="1" shape-rendering="crispEdges"/>
<path d="M6.0,559.3 L7.0,559.0 L8.0,558.5 L9.0,558.1 L10.0,557.7 L11.0,557.2 L12.0,556.8 L13.0,556.3 L14.0,555.9 L15.0,555.5 L16.0,555.2 L17.0,554.9 L18.0,554.6 L19.0,554.3 L20.0,554.0 L21.0,553.7 L22.0,553.5 L23.0,553.5 L24.0,553.5 L25.0,553.5 L26.0,553.5 L27.0,553.5 L28.0,553.5 L29.0,553.8 L30.0,554.9 L31.0,556.1 L32.0,557.2 L33.0,559.6 L34.0,562.6 L35.0,565.6 L36.0,568.7 L37.0,572.7 L38.0,576.6 L39.0,579.2 L40.0,579.6 L41.0,580.0 L42.0,580.4 L43.0,580.8 L44.0,580.9 L45.0,581.0 L46.0,581.2 L47.0,581.3 L48.0,581.4 L49.0,581.5 L50.0,581.7 L51.0,582.1 L52.0,582.6 L53.0,583.1 L54.0,583.5 L55.0,584.0 L56.0,584.5 L57.0,585.0 L58.0,585.6 L59.0,586.2 L60.0,586.8 L61.0,587.4 L62.0,588.0 L63.0,588.6 L64.0,589.2 L65.0,589.8 L66.0,590.4 L67.0,590.5 L68.0,590.2 L69.0,589.9 L70.0,589.6 L71.0,589.3 L72.0,589.0 L73.0,588.7 L74.0,588.4 L75.0,588.1 L76.0,587.6 L77.0,587.0 L78.0,586.4 L79.0,585.8 L80.0,585.2 L81.0,584.6 L82.0,584.0 L83.0,583.4 L84.0,582.8 L85.0,582.2 L86.0,581.5 L87.0,580.7 L88.0,580.0 L89.0,579.3 L90.0,578.6 L91.0,578.2 L92.0,578.5 L93.0,578.8 L94.0,579.0 L95.0,579.3 L96.0,579.6 L97.0,579.9 L98.0,580.1 L99.0,580.3 L100.0,580.5 L101.0,580.7 L102.0,580.9 L103.0,581.1 L104.0,581.3 L105.0,581.5 L106.0,581.7 L107.0,581.2 L108.0,580.7 L109.0,580.2 L110.0,579.7 L111.0,579.2 L112.0,578.4 L113.0,577.4 L114.0,576.4 L115.0,575.4 L116.0,574.4 L117.0,573.4 L118.0,572.4 L119.0,571.4 L120.0,570.4 L121.0,569.4 L122.0,568.4 L123.0,566.8 L124.0,565.1 L125.0,563.4 L126.0,561.7 L127.0,560.0 L128.0,558.3 L129.0,556.6 L130.0,554.9 L131.0,553.2 L132.0,552.6 L133.0,552.1 L134.0,551.7 L135.0,551.2 L136.0,550.8 L137.0,550.3 L138.0,549.9 L139.0,549.4 L140.0,549.0 L141.0,548.5 L142.0,548.1 L143.0,548.0 L144.0,547.9 L145.0,547.8 L146.0,547.7 L147.0,547.6 L148.0,547.4 L149.0,547.3 L150.0,547.3 L151.0,547.3 L152.0,547.2 L153.0,547.2 L154.0,547.2 L155.0,547.2 L156.0,547.2 L157.0,547.2 L158.0,547.1 L159.0,547.1 L160.0,547.1 L161.0,547.1 L162.0,547.1 L163.0,547.0 L164.0,547.0 L165.0,547.0 L166.0,547.1 L167.0,547.3 L168.0,547.4 L169.0,547.6 L170.0,547.7 L171.0,547.8 L172.0,548.0 L173.0,548.1 L174.0,547.9 L175.0,547.3 L176.0,546.6 L177.0,545.9 L178.0,545.3 L179.0,544.6 L180.0,544.0 L181.0,543.5 L182.0,543.5 L183.0,543.5 L184.0,543.5 L185.0,543.5 L186.0,543.5 L187.0,543.5 L188.0,543.5 L189.0,543.5 L190.0,543.5 L191.0,544.3 L192.0,545.3 L193.0,546.2 L194.0,547.1 L195.0,548.1 L196.0,549.0 L197.0,549.6 L198.0,550.1 L199.0,550.6 L200.0,551.1 L201.0,551.6 L202.0,552.1 L203.0,552.6 L204.0,553.1 L205.0,553.2 L206.0,553.1 L207.0,553.1 L208.0,553.1 L209.0,553.0 L210.0,553.0 L211.0,553.0 L212.0,553.0 L213.0,552.9 L214.0,553.4 L215.0,554.7 L216.0,556.0 L217.0,557.3 L218.0,558.6 L219.0,560.0 L220.0,561.1 L221.0,561.8 L222.0,562.4 L223.0,563.1 L224.0,563.7 L225.0,564.4 L226.0,565.0 L227.0,565.6 L228.0,566.3 L229.0,566.9 L230.0,567.6 L231.0,568.1 L232.0,568.3 L233.0,568.5 L234.0,568.6 L235.0,568.8 L236.0,568.6 L237.0,568.1 L238.0,567.5 L239.0,566.9 L240.0,566.4 L241.0,565.8 L242.0,565.1 L243.0,564.0 L244.0,562.8 L245.0,561.7 L246.0,560.6 L247.0,559.5 L248.0,558.4 L249.0,557.3 L250.0,556.2 L251.0,555.1 L252.0,554.0 L253.0,552.9 L254.0,551.9 L255.0,550.9 L256.0,549.9 L257.0,548.9 L258.0,547.9 L259.0,546.9 L260.0,545.9 L261.0,544.9 L262.0,543.9 L263.0,542.9 L264.0,541.4 L265.0,539.2 L266.0,537.0 L267.0,534.9 L268.0,532.7 L269.0,530.5 L270.0,528.3 L271.0,526.1 L272.0,524.3 L273.0,522.9 L274.0,521.5 L275.0,520.1 L276.0,518.8 L277.0,517.4 L278.0,516.5 L279.0,516.6 L280.0,516.8 L281.0,517.0 L282.0,517.1 L283.0,517.4 L284.0,517.8 L285.0,518.2 L286.0,518.6 L287.0,519.0 L288.0,519.4 L289.0,519.8 L290.0,520.2 L291.0,520.2 L292.0,520.2 L293.0,520.1 L294.0,520.0 L295.0,519.9 L296.0,519.9 L297.0,519.8 L298.0,519.7 L299.0,519.6 L300.0,519.5 L301.0,519.2 L302.0,519.0 L303.0,518.7 L304.0,518.5 L305.0,518.2 L306.0,518.0 L307.0,518.2 L308.0,518.4 L309.0,518.5 L310.0,518.7 L311.0,519.1 L312.0,519.7 L313.0,520.4 L314.0,521.0 L315.0,521.7 L316.0,522.1 L317.0,522.3 L318.0,522.6 L319.0,522.8 L320.0,523.1 L321.0,523.4 L322.0,523.6 L323.0,523.9 L324.0,524.1 L325.0,524.3 L326.0,524.4 L327.0,524.6 L328.0,524.7 L329.0,524.8 L330.0,524.9 L331.0,525.4 L332.0,525.9 L333.0,526.4 L334.0,526.9 L335.0,527.4 L336.0,527.9 L337.0,528.4 L338.0,528.9 L339.0,529.4 L340.0,529.6 L341.0,529.7 L342.0,529.8 L343.0,529.9 L344.0,529.9 L345.0,530.0 L346.0,530.1 L347.0,530.2 L348.0,530.2 L349.0,530.3 L350.0,530.4 L351.0,529.9 L352.0,529.2 L353.0,528.5 L354.0,527.8 L355.0,527.1 L356.0,526.4 L357.0,525.8 L358.0,525.5 L359.0,525.1 L360.0,524.7 L361.0,524.3 L362.0,524.0 L363.0,523.6 L364.0,523.2 L365.0,522.8 L366.0,522.5 L367.0,522.1 L368.0,521.7 L369.0,521.3 L370.0,521.0 L371.0,520.7 L372.0,520.9 L373.0,521.0 L374.0,521.2 L375.0,521.4 L376.0,521.5 L377.0,521.7 L378.0,521.8 L379.0,522.0 L380.0,522.1 L381.0,522.3 L382.0,522.4 L383.0,522.6 L384.0,523.6 L385.0,524.9 L386.0,526.2 L387.0,527.5 L388.0,528.8 L389.0,530.1 L390.0,531.4 L391.0,532.7 L392.0,532.8 L393.0,532.9 L394.0,533.0 L395.0,533.0 L396.0,533.1 L397.0,533.2 L398.0,533.3 L399.0,533.4 L400.0,533.5 L401.0,533.6 L402.0,533.7 L403.0,533.7 L404.0,533.6 L405.0,533.3 L406.0,532.9 L407.0,532.5 L408.0,532.1 L409.0,531.2 L410.0,530.2 L411.0,529.2 L412.0,528.2 L413.0,527.2 L414.0,526.2 L415.0,525.2 L416.0,524.2 L417.0,523.2 L418.0,522.2 L419.0,521.2 L420.0,520.2 L421.0,519.2 L422.0,518.2 L423.0,517.2 L424.0,516.2 L425.0,515.3 L426.0,514.4 L427.0,513.5 L428.0,512.6 L429.0,511.7 L430.0,510.8 L431.0,509.9 L432.0,509.0 L433.0,508.1 L434.0,507.2 L435.0,506.3 L436.0,505.4 L437.0,504.5 L438.0,503.6 L439.0,502.7 L440.0,501.7 L441.0,500.7 L442.0,499.7 L443.0,498.7 L444.0,497.8 L445.0,496.8 L446.0,495.8 L447.0,494.8 L448.0,494.2 L449.0,493.9 L450.0,493.6 L451.0,493.3 L452.0,493.0 L453.0,492.7 L454.0,492.4 L455.0,492.1 L456.0,491.8 L457.0,491.7 L458.0,492.3 L459.0,492.9 L460.0,493.5 L461.0,494.1 L462.0,495.4 L463.0,497.4 L464.0,499.4 L465.0,501.5 L466.0,503.5 L467.0,505.5 L468.0,507.3 L469.0,508.5 L470.0,509.7 L471.0,511.0 L472.0,512.2 L473.0,513.5 L474.0,514.7 L475.0,519.1 L476.0,523.6 L477.0,525.4 L478.0,526.2 L479.0,527.0 L480.0,527.7 L481.0,528.5 L482.0,529.3 L483.0,530.0 L484.0,530.8 L485.0,531.6 L486.0,532.3 L487.0,533.0 L488.0,533.6 L489.0,534.1 L490.0,534.7 L491.0,535.3 L492.0,535.8 L493.0,536.4 L494.0,537.0 L495.0,537.5 L496.0,538.1 L497.0,538.7 L498.0,539.2 L499.0,539.8 L500.0,540.9 L501.0,542.0 L502.0,543.1 L503.0,544.2 L504.0,545.4 L505.0,546.5 L506.0,547.4 L507.0,548.2 L508.0,549.0 L509.0,549.8 L510.0,550.6 L511.0,551.5 L512.0,552.3 L513.0,553.1 L514.0,553.9 L515.0,554.7 L516.0,555.5 L517.0,556.3 L518.0,557.5 L519.0,559.8 L520.0,562.2 L521.0,564.6 L522.0,566.9 L523.0,569.3 L524.0,571.7 L525.0,573.1 L526.0,574.3 L527.0,575.6 L528.0,576.9 L529.0,578.2 L530.0,579.0 L531.0,579.5 L532.0,580.0 L533.0,580.3 L534.0,580.2 L535.0,580.1 L536.0,580.0 L537.0,580.0 L538.0,579.9 L539.0,579.8 L540.0,579.8 L541.0,579.7 L542.0,579.6 L543.0,579.5 L544.0,579.7 L545.0,580.2 L546.0,580.6 L547.0,581.1 L548.0,581.6 L549.0,582.0 L550.0,582.5 L551.0,582.9 L552.0,583.4 L553.0,583.8 L554.0,583.4 L555.0,583.1 L556.0,582.8 L557.0,582.5 L558.0,582.2 L559.0,581.8 L560.0,580.5 L561.0,579.0 L562.0,577.5 L563.0,576.0 L564.0,574.5 L565.0,573.0 L566.0,571.5 L567.0,570.0 L568.0,569.1 L569.0,568.2 L570.0,567.3 L571.0,566.3 L572.0,565.4 L573.0,564.5 L574.0,563.6 L575.0,562.7 L576.0,561.8 L577.0,561.6 L578.0,561.8 L579.0,562.0 L580.0,562.1 L581.0,562.3 L582.0,563.5 L583.0,564.8 L584.0,566.0 L585.0,567.3 L586.0,568.5 L587.0,569.7 L588.0,571.0 L589.0,572.3 L590.0,573.5 L591.0,574.8 L592.0,576.1 L593.0,577.0 L594.0,576.6 L595.0,576.2 L596.0,575.7 L597.0,575.3 L598.0,574.9 L599.0,574.9 L600.0,574.9 L601.0,575.0 L602.0,575.0 L603.0,575.1 L604.0,575.4 L605.0,575.8 L606.0,576.1 L607.0,576.4 L608.0,576.7 L609.0,577.0 L610.0,577.5 L611.0,578.0 L612.0,578.5 L613.0,579.0 L614.0,579.5 L615.0,580.0 L616.0,580.9 L617.0,582.0 L618.0,583.1 L619.0,584.3 L620.0,585.4 L621.0,586.5 L622.0,587.4 L623.0,587.9 L624.0,588.3 L625.0,588.8 L626.0,589.2 L627.0,589.7 L628.0,590.1 L629.0,589.6 L630.0,589.2 L631.0,588.7 L632.0,588.3 L633.0,587.8 L634.0,587.4 L635.0,586.7 L636.0,586.0 L637.0,585.4 L638.0,584.7 L639.0,584.0 L640.0,583.3 L641.0,582.6 L642.0,581.9 L643.0,582.1 L644.0,582.4 L645.0,582.7 L646.0,583.0 L647.0,583.3 L648.0,583.6 L649.0,583.9 L650.0,584.1 L651.0,583.6 L652.0,583.1 L653.0,582.6 L654.0,582.1 L655.0,581.6 L656.0,581.1 L657.0,580.6 L658.0,580.1 L659.0,579.6 L660.0,579.1 L661.0,578.6 L662.0,578.1 L663.0,577.6 L664.0,577.1 L665.0,576.6 L666.0,576.1 L667.0,575.6 L668.0,575.1 L669.0,574.6 L670.0,574.1 L671.0,573.2 L672.0,572.2 L673.0,571.2 L674.0,570.2 L675.0,569.2 L676.0,568.2 L677.0,567.2 L678.0,566.2 L679.0,565.2 L680.0,564.5 L681.0,564.2 L682.0,563.9 L683.0,563.6 L684.0,563.3 L685.0,563.0 L686.0,562.8 L687.0,562.5 L688.0,562.2 L689.0,561.9 L690.0,561.6 L691.0,561.3 L692.0,561.0 L693.0,560.6 L694.0,560.2 L695.0,559.8 L696.0,559.4 L697.0,558.9 L698.0,558.5 L699.0,558.1 L700.0,557.7 L701.0,557.3 L702.0,556.8 L703.0,556.4 L704.0,556.0 L705.0,555.6 L706.0,555.2 L707.0,554.7 L708.0,554.5 L709.0,554.7 L710.0,555.0 L711.0,555.2 L712.0,555.5 L713.0,555.7 L714.0,556.0 L715.0,556.6 L716.0,557.3 L717.0,557.9 L718.0,558.6 L719.0,559.2 L720.0,559.9 L721.0,560.6 L722.0,561.4 L723.0,562.1 L724.0,562.8 L725.0,563.5 L726.0,564.2 L727.0,564.9 L728.0,565.7 L729.0,566.4 L730.0,567.1 L731.0,567.1 L732.0,566.8 L733.0,566.5 L734.0,566.2 L735.0,565.9 L736.0,565.6 L737.0,565.3 L738.0,565.1 L739.0,564.9 L740.0,564.7 L741.0,564.5 L742.0,564.3 L743.0,564.0 L744.0,563.8 L745.0,563.6 L746.0,563.4 L747.0,562.0 L748.0,560.6 L749.0,559.2 L750.0,557.7 L751.0,556.3 L752.0,554.9 L753.0,553.5 L754.0,552.1 L755.0,550.7 L756.0,549.0 L757.0,547.1 L758.0,545.2 L759.0,543.4 L760.0,541.5 L761.0,539.6 L762.0,537.7 L763.0,535.9 L764.0,534.0 L765.0,532.1 L766.0,530.3 L767.0,529.0 L768.0,528.0 L769.0,527.0 L770.0,526.0 L771.0,525.0 L772.0,524.0 L773.0,523.0 L774.0,522.0 L775.0,521.0 L776.0,520.5 L777.0,521.2 L778.0,521.9 L779.0,522.5 L780.0,523.2 L781.0,524.7 L782.0,526.7 L783.0,528.7 L784.0,530.6 L785.0,532.6 L786.0,534.6 L787.0,536.4 L788.0,537.6 L789.0,538.8 L790.0,540.0 L791.0,542.2 L792.0,545.9 L793.0,549.6 L794.0,553.2 L795.0,556.9 L796.0,560.6 L797.0,564.6 L798.0,568.6 L799.0,572.7 L800.0,576.7 L801.0,577.8 L802.0,579.0 L803.0,580.1 L804.0,581.2 L805.0,582.3 L806.0,583.1 L807.0,583.6 L808.0,584.1 L809.0,584.5 L810.0,585.0 L811.0,585.5 L812.0,585.8 L813.0,585.8 L814.0,585.9 L815.0,585.9 L816.0,586.0 L817.0,586.0 L818.0,586.0 L819.0,586.1 L820.0,586.9 L821.0,588.6 L822.0,590.2 L823.0,591.9 L824.0,593.6 L825.0,594.0 L826.0,594.0 L827.0,594.1 L828.0,594.2 L829.0,594.2 L830.0,594.3 L831.0,594.4 L832.0,594.5 L833.0,594.5 L834.0,594.6 L835.0,594.7 L836.0,594.5 L837.0,594.2 L838.0,594.0 L839.0,593.7 L840.0,593.5 L841.0,593.2 L842.0,592.2 L843.0,590.3 L844.0,588.4 L845.0,586.5 L846.0,584.6 L847.0,582.7 L848.0,580.7 L849.0,578.3 L850.0,575.9 L851.0,573.4 L852.0,571.0 L853.0,568.6 L854.0,566.2 L855.0,563.8 L856.0,561.5 L857.0,559.4 L858.0,557.3 L859.0,555.2 L860.0,553.1 L861.0,551.0 L862.0,548.9 L863.0,546.8 L864.0,544.7 L865.0,542.5 L866.0,540.4 L867.0,538.3 L868.0,536.2 L869.0,535.5 L870.0,534.9 L871.0,534.3 L872.0,533.6 L873.0,533.0 L874.0,532.4 L875.0,531.8 L876.0,531.1 L877.0,529.5 L878.0,527.8 L879.0,526.2 L880.0,524.5 L881.0,522.9 L882.0,521.2 L883.0,519.6 L884.0,518.0 L885.0,516.4 L886.0,514.8 L887.0,513.1 L888.0,511.9 L889.0,510.8 L890.0,509.7 L891.0,508.6 L892.0,507.5 L893.0,506.4 L894.0,505.2 L895.0,503.7 L896.0,501.8 L897.0,500.0 L898.0,498.1 L899.0,496.3 L900.0,494.4 L901.0,493.1 L902.0,493.0 L903.0,492.8 L904.0,492.7 L905.0,492.6 L906.0,492.5 L907.0,493.8 L908.0,495.1 L909.0,496.3 L910.0,497.6 L911.0,498.9 L912.0,501.0 L913.0,503.7 L914.0,506.4 L915.0,509.1 L916.0,511.8 L917.0,514.5 L918.0,516.6 L919.0,517.2 L920.0,517.8 L921.0,518.5 L922.0,519.1 L923.0,519.7 L924.0,520.3 L925.0,521.0 L926.0,521.9 L927.0,522.7 L928.0,523.6 L929.0,524.5 L930.0,525.4 L931.0,526.2 L932.0,527.1 L933.0,528.9 L934.0,530.8 L935.0,532.7 L936.0,534.6 L937.0,536.5 L938.0,538.3 L939.0,540.2 L940.0,542.1 L941.0,542.2 L942.0,541.9 L943.0,541.6 L944.0,541.2 L945.0,540.9 L946.0,541.1 L947.0,542.3 L948.0,543.4 L949.0,544.5 L950.0,545.6 L951.0,546.8 L952.0,547.9 L953.0,548.3 L954.0,545.6 L955.0,543.0 L956.0,540.3 L957.0,537.6 L958.0,535.7 L959.0,534.0 L960.0,532.2 L961.0,530.5 L962.0,528.7 L963.0,526.9 L964.0,525.2 L965.0,523.8 L966.0,522.6 L967.0,521.4 L968.0,520.2 L969.0,519.0 L970.0,517.8 L971.0,516.6 L972.0,515.4 L973.0,514.2 L974.0,514.1 L975.0,514.8 L976.0,515.6 L977.0,516.3 L978.0,517.0 L979.0,517.7 L980.0,519.1 L981.0,522.1 L982.0,525.1 L983.0,528.1 L984.0,531.1 L985.0,534.1 L986.0,537.1 L987.0,540.3 L988.0,543.4 L989.0,546.6 L990.0,549.8 L991.0,552.9 L992.0,554.9 L993.0,556.1 L994.0,557.3 L995.0,558.5 L996.0,559.7 L997.0,560.9 L998.0,562.0 L999.0,563.2 L1000.0,564.4 L1001.0,565.8 L1002.0,567.3 L1003.0,568.8 L1004.0,570.4 L1005.0,571.9 L1006.0,573.4 L1007.0,574.9 L1008.0,576.4 L1009.0,577.9 L1010.0,578.8 L1011.0,579.4 L1012.0,580.1 L1013.0,580.7 L1014.0,581.3 L1015.0,581.9 L1016.0,582.5 L1017.0,583.2 L1018.0,583.2 L1019.0,582.9 L1020.0,582.6 L1021.0,582.3 L1022.0,581.8 L1023.0,580.2 L1024.0,578.6 L1025.0,577.0 L1026.0,575.4 L1027.0,573.8 L1028.0,572.2 L1029.0,570.6 L1030.0,569.0 L1031.0,567.8 L1032.0,569.5 L1033.0,571.3 L1034.0,573.0 L1035.0,574.8 L1036.0,576.5 L1037.0,578.3 L1038.0,580.0 L1039.0,581.3 L1040.0,582.6 L1041.0,583.8 L1042.0,585.1 L1043.0,586.3 L1044.0,587.6 L1045.0,588.8 L1046.0,592.1 L1047.0,596.3 L1048.0,599.3 L1049.0,601.1 L1050.0,603.0 L1051.0,604.8 L1052.0,606.6 L1053.0,608.5 L1054.0,610.3 L1055.0,612.1 L1056.0,614.0 L1057.0,615.3 L1058.0,616.2 L1059.0,617.1 L1060.0,617.9 L1061.0,618.8 L1062.0,619.7 L1063.0,620.4 L1064.0,620.9 L1065.0,621.4 L1066.0,621.9 L1067.0,622.4 L1068.0,622.9 L1069.0,623.4 L1070.0,624.0 L1071.0,625.5 L1072.0,627.0 L1073.0,628.5 L1074.0,630.0 L1075.0,631.5 L1076.0,633.0 L1077.0,634.5 L1078.0,636.0 L1079.0,637.3 L1080.0,637.1 L1081.0,636.9 L1082.0,636.8 L1083.0,636.6 L1084.0,636.4 L1085.0,636.3 L1086.0,636.1 L1087.0,635.9 L1088.0,636.0 L1089.0,638.0 L1090.0,640.0 L1091.0,642.0 L1092.0,644.0 L1093.0,646.0 L1094.0,647.9 L1095.0,648.5 L1096.0,649.1 L1097.0,649.8 L1098.0,650.4 L1099.0,651.0 L1100.0,651.5 L1101.0,651.0 L1102.0,650.5 L1103.0,650.0 L1104.0,649.5 L1105.0,649.0 L1106.0,648.5 L1107.0,648.0 L1108.0,647.1 L1109.0,645.9 L1110.0,644.7 L1111.0,643.5 L1112.0,642.3 L1113.0,641.1 L1114.0,639.9 L1115.0,638.8 L1116.0,638.9 L1117.0,639.0 L1118.0,639.1 L1119.0,639.2 L1120.0,639.3 L1121.0,639.3 L1122.0,639.4 L1123.0,639.5 L1124.0,639.3 L1125.0,638.0 L1126.0,636.8 L1127.0,635.5 L1128.0,634.2 L1129.0,632.9 L1130.0,631.6 L1131.0,630.3 L1132.0,628.0 L1133.0,625.4 L1134.0,622.7 L1135.0,620.0 L1136.0,617.5 L1137.0,615.8 L1138.0,614.0 L1139.0,612.3 L1140.0,610.5 L1141.0,608.8 L1142.0,607.6 L1143.0,608.4 L1144.0,609.3 L1145.0,610.2 L1146.0,611.0 L1147.0,611.9 L1148.0,612.8 L1149.0,613.9 L1150.0,615.0 L1151.0,616.1 L1152.0,617.2 L1153.0,618.3 L1154.0,619.4 L1155.0,620.4 L1156.0,621.5 L1157.0,622.3 L1158.0,621.7 L1159.0,621.1 L1160.0,620.5 L1161.0,619.9 L1162.0,619.3 L1163.0,618.7 L1164.0,618.1 L1165.0,617.4 L1166.0,616.7 L1167.0,615.9 L1168.0,615.2 L1169.0,614.5 L1170.0,614.5 L1171.0,615.4 L1172.0,616.3 L1173.0,617.2 L1174.0,618.1 L1175.0,619.0 L1176.0,619.9 L1177.0,620.0 L1178.0,619.8 L1179.0,619.6 L1180.0,619.4 L1181.0,618.1 L1182.0,616.7 L1183.0,615.4 L1184.0,614.0 L1185.0,612.7 L1186.0,611.3 L1187.0,609.9 L1188.0,608.1 L1189.0,606.3 L1190.0,604.5 L1191.0,602.7 L1192.0,600.9 L1193.0,599.1 L1194.0,598.4" fill="none" stroke="#c81818" stroke-width="1" shape-rendering="crispEdges"/>
</svg>
<div class="t" style="left:5px;top:3.5px;font-size:11.5px;color:#cf9f2f;">SANOFI</div>
<div class="t" style="left:4px;top:18px;font-size:11px;color:#cf9f2f;">D</div>
<div class="t" style="left:13px;top:18px;font-size:11px;color:#000;">15/07/2016</div>
<div class="t" style="left:74px;top:18px;font-size:11px;color:#cf9f2f;">T</div>
<div class="t" style="left:82px;top:18px;font-size:11px;color:#000;">23:59:59</div>
<div class="t" style="left:132px;top:18px;font-size:11px;color:#cf9f2f;">O</div>
<div class="t" style="left:141.5px;top:18px;font-size:11px;color:#000;">75,55</div>
<div class="t" style="left:174.5px;top:18px;font-size:11px;color:#cf9f2f;">H</div>
<div class="t" style="left:183.5px;top:18px;font-size:11px;color:#000;">75,82</div>
<div class="t" style="left:216.5px;top:18px;font-size:11px;color:#cf9f2f;">L</div>
<div class="t" style="left:224px;top:18px;font-size:11px;color:#000;">74,98</div>
<div class="t" style="left:258px;top:18px;font-size:11px;color:#cf9f2f;">C</div>
<div class="t" style="left:266px;top:18px;font-size:11px;color:#000;">75,63</div>
<div class="t" style="left:302px;top:18px;font-size:11px;color:#cf9f2f;">V</div>
<div class="t" style="left:312px;top:18px;font-size:11px;color:#000;">2,0393 M</div>
<div class="t" style="left:363.5px;top:18px;font-size:11px;color:#cf9f2f;">Var%</div>
<div class="t" style="left:393.5px;top:18px;font-size:11px;color:#000;">0,00000</div>
<div class="t" style="left:1225.5px;top:53.5px;font-size:9.5px;color:#cf9f2f;letter-spacing:0.7px;">100,00</div>
<div class="t" style="left:1225.5px;top:86.92000000000002px;font-size:9.5px;color:#cf9f2f;letter-spacing:0.7px;">95,00</div>
<div class="t" style="left:1225.5px;top:120.34px;font-size:9.5px;color:#cf9f2f;letter-spacing:0.7px;">90,00</div>
<div class="t" style="left:1225.5px;top:153.76000000000002px;font-size:9.5px;color:#cf9f2f;letter-spacing:0.7px;">85,00</div>
<div class="t" style="left:1225.5px;top:187.18px;font-size:9.5px;color:#cf9f2f;letter-spacing:0.7px;">80,00</div>
<div class="t" style="left:1225.5px;top:221.8px;font-size:9.5px;color:#cf9f2f;letter-spacing:0.7px;">75,00</div>
<div class="t" style="left:1225.5px;top:254.02px;font-size:9.5px;color:#cf9f2f;letter-spacing:0.7px;">70,00</div>
<div class="t" style="left:1225.5px;top:287.44px;font-size:9.5px;color:#cf9f2f;letter-spacing:0.7px;">65,00</div>
<div class="t" style="left:1225.5px;top:320.86px;font-size:9.5px;color:#cf9f2f;letter-spacing:0.7px;">60,00</div>
<div class="t" style="left:1225.5px;top:354.28000000000003px;font-size:9.5px;color:#cf9f2f;letter-spacing:0.7px;">55,00</div>
<div class="t" style="left:1225.5px;top:387.70000000000005px;font-size:9.5px;color:#cf9f2f;letter-spacing:0.7px;">50,00</div>
<div class="t" style="left:1225.5px;top:421.12px;font-size:9.5px;color:#cf9f2f;letter-spacing:0.7px;">45,00</div>
<div class="t" style="left:80.5px;top:467px;font-size:9px;color:#cf9f2f;letter-spacing:0.95px;">01-Dic-2011</div>
<div class="t" style="left:80.5px;top:660px;font-size:9px;color:#cf9f2f;letter-spacing:0.95px;">01-Dic-2011</div>
<div class="t" style="left:197.5px;top:467px;font-size:9px;color:#cf9f2f;letter-spacing:0.95px;">01-Giu-2012</div>
<div class="t" style="left:197.5px;top:660px;font-size:9px;color:#cf9f2f;letter-spacing:0.95px;">01-Giu-2012</div>
<div class="t" style="left:317.0px;top:467px;font-size:9px;color:#cf9f2f;letter-spacing:0.95px;">03-Dic-2012</div>
<div class="t" style="left:317.0px;top:660px;font-size:9px;color:#cf9f2f;letter-spacing:0.95px;">03-Dic-2012</div>
<div class="t" style="left:431.0px;top:467px;font-size:9px;color:#cf9f2f;letter-spacing:0.95px;">03-Giu-2013</div>
<div class="t" style="left:431.0px;top:660px;font-size:9px;color:#cf9f2f;letter-spacing:0.95px;">03-Giu-2013</div>
<div class="t" style="left:550.0px;top:467px;font-size:9px;color:#cf9f2f;letter-spacing:0.95px;">02-Dic-2013</div>
<div class="t" style="left:550.0px;top:660px;font-size:9px;color:#cf9f2f;letter-spacing:0.95px;">02-Dic-2013</div>
<div class="t" style="left:664.0px;top:467px;font-size:9px;color:#cf9f2f;letter-spacing:0.95px;">02-Giu-2014</div>
<div class="t" style="left:664.0px;top:660px;font-size:9px;color:#cf9f2f;letter-spacing:0.95px;">02-Giu-2014</div>
<div class="t" style="left:782.5px;top:467px;font-size:9px;color:#cf9f2f;letter-spacing:0.95px;">01-Dic-2014</div>
<div class="t" style="left:782.5px;top:660px;font-size:9px;color:#cf9f2f;letter-spacing:0.95px;">01-Dic-2014</div>
<div class="t" style="left:897.0px;top:467px;font-size:9px;color:#cf9f2f;letter-spacing:0.95px;">01-Giu-2015</div>
<div class="t" style="left:897.0px;top:660px;font-size:9px;color:#cf9f2f;letter-spacing:0.95px;">01-Giu-2015</div>
<div class="t" style="left:1017.5px;top:467px;font-size:9px;color:#cf9f2f;letter-spacing:0.95px;">01-Dic-2015</div>
<div class="t" style="left:1017.5px;top:660px;font-size:9px;color:#cf9f2f;letter-spacing:0.95px;">01-Dic-2015</div>
<div class="t" style="left:1135.0px;top:467px;font-size:9px;color:#cf9f2f;letter-spacing:0.95px;">01-Giu-2016</div>
<div class="t" style="left:1135.0px;top:660px;font-size:9px;color:#cf9f2f;letter-spacing:0.95px;">01-Giu-2016</div>
<div class="t" style="left:17.5px;top:477.5px;font-size:10px;color:#cf9f2f;letter-spacing:0.4px;">MACD</div>
<div class="t" style="left:67.5px;top:477.5px;font-size:10px;color:#cf9f2f;letter-spacing:0.35px;">(32 , 200) :</div>
<div class="t" style="left:129px;top:477.5px;font-size:10px;color:#a01028;letter-spacing:0.7px;">-2,9178</div>
<div class="t" style="left:181px;top:477.5px;font-size:10px;color:#cf9f2f;letter-spacing:0px;">9 :</div>
<div class="t" style="left:200.5px;top:477.5px;font-size:10px;color:#000;letter-spacing:0.5px;">-3,5477</div>
<div class="t" style="left:252.5px;top:477.5px;font-size:10px;color:#cf9f2f;letter-spacing:0.4px;">hist :</div>
<div class="t" style="left:283.5px;top:477.5px;font-size:10px;color:#000090;letter-spacing:0.5px;">0,62994</div>
<div class="t" style="left:1226px;top:486.2px;font-size:9.5px;color:#cf9f2f;letter-spacing:0.7px;">10,012</div>
<div class="t" style="left:300.5px;top:374.6px;font-size:28px;color:#000;font-family:'Liberation Serif',serif;">area 80 da seguire per o short</div>
<div style="position:absolute;left:1225px;top:646px;width:52px;height:8px;overflow:hidden;"><div class="t" style="left:0.5px;top:0px;font-size:9.5px;color:#cf9f2f;letter-spacing:0.7px;">-9,3652</div></div>
<div style="position:absolute;left:1225px;top:214px;width:53px;height:14px;background:#c9c5be;"></div>
<div style="position:absolute;left:1225px;top:561px;width:53px;height:15px;background:#0000f0;"></div>
<div style="position:absolute;left:1225px;top:582px;width:53px;height:15px;background:#f00000;"></div>
<div style="position:absolute;left:1225px;top:597px;width:53px;height:14px;background:#000;"></div>
<div class="t" style="left:1237px;top:216.5px;font-size:10px;color:#000;letter-spacing:0.5px;">75,63</div>
<div class="t" style="left:1233.5px;top:564.5px;font-size:10px;color:#fff;letter-spacing:0.75px;">0,62994</div>
<div class="t" style="left:1234px;top:586px;font-size:10px;color:#fff;letter-spacing:0.55px;">-2,9178</div>
<div class="t" style="left:1234px;top:599.5px;font-size:10px;color:#fff;letter-spacing:0.55px;">-3,5477</div>
<div class="t" style="left:1187px;top:655.5px;font-size:11px;font-weight:bold;color:#e9a02a;background:#fff;padding:0 2px 0 0.5px;letter-spacing:0.26px;">&copy; ITtrading.com</div>
</body></html>
